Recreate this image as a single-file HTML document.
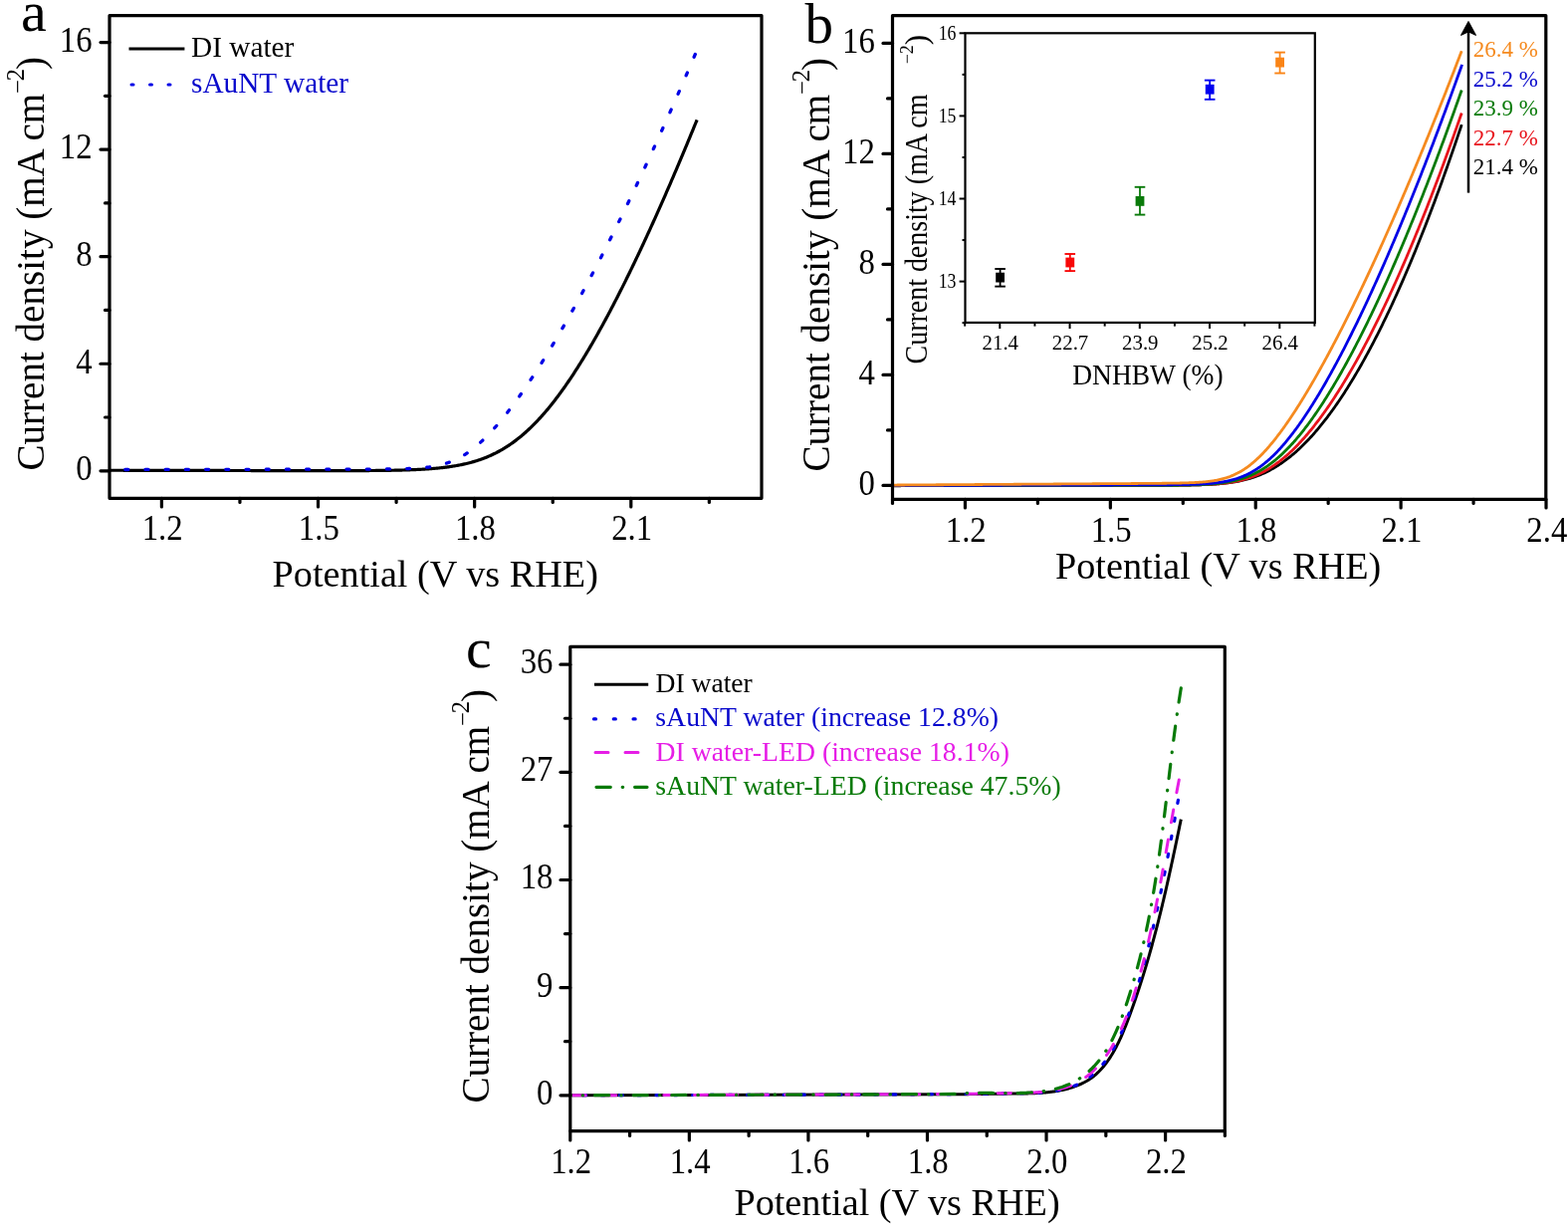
<!DOCTYPE html>
<html><head><meta charset="utf-8"><title>Figure</title>
<style>
html,body{margin:0;padding:0;background:#fff;}
svg{display:block;}
text{font-family:'Liberation Serif','Times New Roman',serif;}
</style></head>
<body>
<svg width="1575" height="1237" viewBox="0 0 1575 1237">
<rect width="1575" height="1237" fill="#fff"/>
<path d="M110.5,472.25 L111.5,472.25 L112.5,472.25 L113.5,472.25 L114.5,472.26 L115.5,472.26 L116.5,472.26 L117.5,472.26 L118.5,472.26 L119.5,472.27 L120.5,472.27 L121.5,472.27 L122.5,472.27 L123.5,472.27 L124.5,472.28 L125.5,472.28 L126.5,472.28 L127.5,472.28 L128.5,472.28 L129.5,472.29 L130.5,472.29 L131.5,472.29 L132.5,472.29 L133.5,472.29 L134.5,472.3 L135.5,472.3 L136.5,472.3 L137.5,472.3 L138.5,472.3 L139.5,472.31 L140.5,472.31 L141.5,472.31 L142.5,472.31 L143.5,472.31 L144.5,472.32 L145.5,472.32 L146.5,472.32 L147.5,472.32 L148.5,472.32 L149.5,472.33 L150.5,472.33 L151.5,472.33 L152.5,472.33 L153.5,472.33 L154.5,472.34 L155.5,472.34 L156.5,472.34 L157.5,472.34 L158.5,472.34 L159.5,472.35 L160.5,472.35 L161.5,472.35 L162.5,472.35 L163.5,472.35 L164.5,472.35 L165.5,472.36 L166.5,472.36 L167.5,472.36 L168.5,472.36 L169.5,472.36 L170.5,472.37 L171.5,472.37 L172.5,472.37 L173.5,472.37 L174.5,472.37 L175.5,472.38 L176.5,472.38 L177.5,472.38 L178.5,472.38 L179.5,472.38 L180.5,472.39 L181.5,472.39 L182.5,472.39 L183.5,472.39 L184.5,472.39 L185.5,472.4 L186.5,472.4 L187.5,472.4 L188.5,472.4 L189.5,472.4 L190.5,472.41 L191.5,472.41 L192.5,472.41 L193.5,472.41 L194.5,472.41 L195.5,472.42 L196.5,472.42 L197.5,472.42 L198.5,472.42 L199.5,472.42 L200.5,472.43 L201.5,472.43 L202.5,472.43 L203.5,472.43 L204.5,472.43 L205.5,472.44 L206.5,472.44 L207.5,472.44 L208.5,472.44 L209.5,472.44 L210.5,472.45 L211.5,472.45 L212.5,472.45 L213.5,472.45 L214.5,472.45 L215.5,472.45 L216.5,472.46 L217.5,472.46 L218.5,472.46 L219.5,472.46 L220.5,472.46 L221.5,472.47 L222.5,472.47 L223.5,472.47 L224.5,472.47 L225.5,472.47 L226.5,472.48 L227.5,472.48 L228.5,472.48 L229.5,472.48 L230.5,472.48 L231.5,472.49 L232.5,472.49 L233.5,472.49 L234.5,472.49 L235.5,472.49 L236.5,472.5 L237.5,472.5 L238.5,472.5 L239.5,472.5 L240.5,472.5 L241.5,472.5 L242.5,472.51 L243.5,472.51 L244.5,472.51 L245.5,472.51 L246.5,472.51 L247.5,472.52 L248.5,472.52 L249.5,472.52 L250.5,472.52 L251.5,472.52 L252.5,472.53 L253.5,472.53 L254.5,472.53 L255.5,472.53 L256.5,472.53 L257.5,472.53 L258.5,472.54 L259.5,472.54 L260.5,472.54 L261.5,472.54 L262.5,472.54 L263.5,472.55 L264.5,472.55 L265.5,472.55 L266.5,472.55 L267.5,472.55 L268.5,472.55 L269.5,472.56 L270.5,472.56 L271.5,472.56 L272.5,472.56 L273.5,472.56 L274.5,472.57 L275.5,472.57 L276.5,472.57 L277.5,472.57 L278.5,472.57 L279.5,472.57 L280.5,472.58 L281.5,472.58 L282.5,472.58 L283.5,472.58 L284.5,472.58 L285.5,472.58 L286.5,472.59 L287.5,472.59 L288.5,472.59 L289.5,472.59 L290.5,472.59 L291.5,472.59 L292.5,472.59 L293.5,472.6 L294.5,472.6 L295.5,472.6 L296.5,472.6 L297.5,472.6 L298.5,472.6 L299.5,472.6 L300.5,472.61 L301.5,472.61 L302.5,472.61 L303.5,472.61 L304.5,472.61 L305.5,472.61 L306.5,472.61 L307.5,472.61 L308.5,472.62 L309.5,472.62 L310.5,472.62 L311.5,472.62 L312.5,472.62 L313.5,472.62 L314.5,472.62 L315.5,472.62 L316.5,472.62 L317.5,472.62 L318.5,472.63 L319.5,472.63 L320.5,472.63 L321.5,472.63 L322.5,472.63 L323.5,472.63 L324.5,472.63 L325.5,472.63 L326.5,472.63 L327.5,472.63 L328.5,472.63 L329.5,472.63 L330.5,472.63 L331.5,472.63 L332.5,472.63 L333.5,472.63 L334.5,472.63 L335.5,472.63 L336.5,472.63 L337.5,472.63 L338.5,472.63 L339.5,472.63 L340.5,472.63 L341.5,472.63 L342.5,472.62 L343.5,472.62 L344.5,472.62 L345.5,472.62 L346.5,472.62 L347.5,472.62 L348.5,472.62 L349.5,472.61 L350.5,472.61 L351.5,472.61 L352.5,472.61 L353.5,472.6 L354.5,472.6 L355.5,472.6 L356.5,472.6 L357.5,472.59 L358.5,472.59 L359.5,472.59 L360.5,472.58 L361.5,472.58 L362.5,472.57 L363.5,472.57 L364.5,472.56 L365.5,472.56 L366.5,472.55 L367.5,472.55 L368.5,472.54 L369.5,472.54 L370.5,472.53 L371.5,472.52 L372.5,472.51 L373.5,472.51 L374.5,472.5 L375.5,472.49 L376.5,472.48 L377.5,472.47 L378.5,472.46 L379.5,472.45 L380.5,472.44 L381.5,472.43 L382.5,472.42 L383.5,472.41 L384.5,472.4 L385.5,472.39 L386.5,472.37 L387.5,472.36 L388.5,472.34 L389.5,472.33 L390.5,472.31 L391.5,472.3 L392.5,472.28 L393.5,472.26 L394.5,472.24 L395.5,472.23 L396.5,472.21 L397.5,472.19 L398.5,472.16 L399.5,472.14 L400.5,472.12 L401.5,472.09 L402.5,472.07 L403.5,472.04 L404.5,472.02 L405.5,471.99 L406.5,471.96 L407.5,471.93 L408.5,471.9 L409.5,471.86 L410.5,471.83 L411.5,471.79 L412.5,471.76 L413.5,471.72 L414.5,471.68 L415.5,471.64 L416.5,471.6 L417.5,471.55 L418.5,471.51 L419.5,471.46 L420.5,471.41 L421.5,471.36 L422.5,471.31 L423.5,471.25 L424.5,471.2 L425.5,471.14 L426.5,471.08 L427.5,471.02 L428.5,470.95 L429.5,470.88 L430.5,470.81 L431.5,470.74 L432.5,470.67 L433.5,470.59 L434.5,470.51 L435.5,470.43 L436.5,470.34 L437.5,470.25 L438.5,470.16 L439.5,470.07 L440.5,469.97 L441.5,469.87 L442.5,469.76 L443.5,469.65 L444.5,469.54 L445.5,469.43 L446.5,469.31 L447.5,469.18 L448.5,469.06 L449.5,468.92 L450.5,468.79 L451.5,468.65 L452.5,468.5 L453.5,468.35 L454.5,468.2 L455.5,468.04 L456.5,467.88 L457.5,467.71 L458.5,467.53 L459.5,467.35 L460.5,467.17 L461.5,466.98 L462.5,466.78 L463.5,466.58 L464.5,466.37 L465.5,466.15 L466.5,465.93 L467.5,465.71 L468.5,465.47 L469.5,465.23 L470.5,464.98 L471.5,464.73 L472.5,464.46 L473.5,464.19 L474.5,463.91 L475.5,463.63 L476.5,463.34 L477.5,463.03 L478.5,462.72 L479.5,462.41 L480.5,462.08 L481.5,461.74 L482.5,461.4 L483.5,461.05 L484.5,460.68 L485.5,460.31 L486.5,459.93 L487.5,459.54 L488.5,459.14 L489.5,458.73 L490.5,458.31 L491.5,457.88 L492.5,457.44 L493.5,456.98 L494.5,456.52 L495.5,456.05 L496.5,455.56 L497.5,455.07 L498.5,454.56 L499.5,454.04 L500.5,453.51 L501.5,452.97 L502.5,452.42 L503.5,451.85 L504.5,451.28 L505.5,450.69 L506.5,450.08 L507.5,449.47 L508.5,448.84 L509.5,448.21 L510.5,447.55 L511.5,446.89 L512.5,446.21 L513.5,445.52 L514.5,444.82 L515.5,444.1 L516.5,443.37 L517.5,442.63 L518.5,441.87 L519.5,441.1 L520.5,440.32 L521.5,439.52 L522.5,438.71 L523.5,437.89 L524.5,437.05 L525.5,436.2 L526.5,435.33 L527.5,434.45 L528.5,433.56 L529.5,432.65 L530.5,431.73 L531.5,430.79 L532.5,429.85 L533.5,428.88 L534.5,427.91 L535.5,426.92 L536.5,425.91 L537.5,424.89 L538.5,423.86 L539.5,422.82 L540.5,421.76 L541.5,420.68 L542.5,419.59 L543.5,418.49 L544.5,417.38 L545.5,416.25 L546.5,415.11 L547.5,413.95 L548.5,412.78 L549.5,411.6 L550.5,410.4 L551.5,409.19 L552.5,407.97 L553.5,406.73 L554.5,405.48 L555.5,404.22 L556.5,402.94 L557.5,401.65 L558.5,400.35 L559.5,399.03 L560.5,397.7 L561.5,396.36 L562.5,395.01 L563.5,393.64 L564.5,392.26 L565.5,390.87 L566.5,389.47 L567.5,388.05 L568.5,386.62 L569.5,385.18 L570.5,383.73 L571.5,382.26 L572.5,380.78 L573.5,379.3 L574.5,377.8 L575.5,376.28 L576.5,374.76 L577.5,373.22 L578.5,371.68 L579.5,370.12 L580.5,368.55 L581.5,366.97 L582.5,365.38 L583.5,363.77 L584.5,362.16 L585.5,360.54 L586.5,358.9 L587.5,357.25 L588.5,355.6 L589.5,353.93 L590.5,352.25 L591.5,350.57 L592.5,348.87 L593.5,347.16 L594.5,345.44 L595.5,343.71 L596.5,341.98 L597.5,340.23 L598.5,338.47 L599.5,336.7 L600.5,334.93 L601.5,333.14 L602.5,331.34 L603.5,329.54 L604.5,327.73 L605.5,325.9 L606.5,324.07 L607.5,322.23 L608.5,320.38 L609.5,318.52 L610.5,316.65 L611.5,314.77 L612.5,312.89 L613.5,310.99 L614.5,309.09 L615.5,307.18 L616.5,305.26 L617.5,303.33 L618.5,301.39 L619.5,299.45 L620.5,297.5 L621.5,295.54 L622.5,293.57 L623.5,291.59 L624.5,289.6 L625.5,287.61 L626.5,285.61 L627.5,283.6 L628.5,281.59 L629.5,279.57 L630.5,277.53 L631.5,275.5 L632.5,273.45 L633.5,271.4 L634.5,269.34 L635.5,267.27 L636.5,265.19 L637.5,263.11 L638.5,261.02 L639.5,258.93 L640.5,256.82 L641.5,254.71 L642.5,252.6 L643.5,250.47 L644.5,248.34 L645.5,246.2 L646.5,244.06 L647.5,241.91 L648.5,239.75 L649.5,237.59 L650.5,235.42 L651.5,233.24 L652.5,231.06 L653.5,228.87 L654.5,226.67 L655.5,224.47 L656.5,222.26 L657.5,220.04 L658.5,217.82 L659.5,215.59 L660.5,213.36 L661.5,211.12 L662.5,208.87 L663.5,206.62 L664.5,204.36 L665.5,202.1 L666.5,199.83 L667.5,197.55 L668.5,195.27 L669.5,192.98 L670.5,190.69 L671.5,188.39 L672.5,186.08 L673.5,183.77 L674.5,181.46 L675.5,179.13 L676.5,176.81 L677.5,174.47 L678.5,172.13 L679.5,169.79 L680.5,167.44 L681.5,165.09 L682.5,162.72 L683.5,160.36 L684.5,157.99 L685.5,155.61 L686.5,153.23 L687.5,150.84 L688.5,148.45 L689.5,146.05 L690.5,143.64 L691.5,141.24 L692.5,138.82 L693.5,136.4 L694.5,133.98 L695.5,131.55 L696.5,129.12 L697.5,126.68 L698.5,124.23 L699.5,121.78 L700.1,120.31" fill="none" stroke="#000" stroke-width="3.2" stroke-linecap="butt" stroke-linejoin="round" />
<path d="M698.3,54.51 L697.5,56.38 L696.5,58.72 L695.5,61.06 L694.5,63.39 L693.5,65.72 L692.5,68.05 L691.5,70.37 L690.5,72.69 L689.5,75 L688.5,77.31 L687.5,79.62 L686.5,81.92 L685.5,84.22 L684.5,86.52 L683.5,88.81 L682.5,91.1 L681.5,93.38 L680.5,95.66 L679.5,97.94 L678.5,100.21 L677.5,102.48 L676.5,104.74 L675.5,107 L674.5,109.26 L673.5,111.51 L672.5,113.76 L671.5,116.01 L670.5,118.25 L669.5,120.48 L668.5,122.72 L667.5,124.95 L666.5,127.17 L665.5,129.39 L664.5,131.61 L663.5,133.82 L662.5,136.03 L661.5,138.23 L660.5,140.44 L659.5,142.63 L658.5,144.82 L657.5,147.01 L656.5,149.2 L655.5,151.38 L654.5,153.55 L653.5,155.72 L652.5,157.89 L651.5,160.05 L650.5,162.21 L649.5,164.37 L648.5,166.52 L647.5,168.66 L646.5,170.81 L645.5,172.94 L644.5,175.08 L643.5,177.21 L642.5,179.33 L641.5,181.45 L640.5,183.57 L639.5,185.68 L638.5,187.79 L637.5,189.89 L636.5,191.99 L635.5,194.08 L634.5,196.17 L633.5,198.26 L632.5,200.34 L631.5,202.42 L630.5,204.49 L629.5,206.55 L628.5,208.62 L627.5,210.68 L626.5,212.73 L625.5,214.78 L624.5,216.82 L623.5,218.86 L622.5,220.9 L621.5,222.93 L620.5,224.96 L619.5,226.98 L618.5,228.99 L617.5,231.01 L616.5,233.01 L615.5,235.02 L614.5,237.01 L613.5,239.01 L612.5,240.99 L611.5,242.98 L610.5,244.96 L609.5,246.93 L608.5,248.9 L607.5,250.86 L606.5,252.82 L605.5,254.78 L604.5,256.72 L603.5,258.67 L602.5,260.61 L601.5,262.54 L600.5,264.47 L599.5,266.39 L598.5,268.31 L597.5,270.23 L596.5,272.14 L595.5,274.04 L594.5,275.94 L593.5,277.83 L592.5,279.72 L591.5,281.6 L590.5,283.48 L589.5,285.35 L588.5,287.22 L587.5,289.08 L586.5,290.93 L585.5,292.78 L584.5,294.63 L583.5,296.47 L582.5,298.3 L581.5,300.13 L580.5,301.95 L579.5,303.77 L578.5,305.58 L577.5,307.39 L576.5,309.19 L575.5,310.99 L574.5,312.77 L573.5,314.56 L572.5,316.33 L571.5,318.11 L570.5,319.87 L569.5,321.63 L568.5,323.39 L567.5,325.13 L566.5,326.87 L565.5,328.61 L564.5,330.34 L563.5,332.06 L562.5,333.78 L561.5,335.49 L560.5,337.2 L559.5,338.89 L558.5,340.59 L557.5,342.27 L556.5,343.95 L555.5,345.62 L554.5,347.29 L553.5,348.95 L552.5,350.6 L551.5,352.25 L550.5,353.89 L549.5,355.52 L548.5,357.15 L547.5,358.76 L546.5,360.38 L545.5,361.98 L544.5,363.58 L543.5,365.17 L542.5,366.75 L541.5,368.33 L540.5,369.89 L539.5,371.45 L538.5,373.01 L537.5,374.55 L536.5,376.09 L535.5,377.62 L534.5,379.14 L533.5,380.66 L532.5,382.16 L531.5,383.66 L530.5,385.15 L529.5,386.63 L528.5,388.1 L527.5,389.57 L526.5,391.02 L525.5,392.47 L524.5,393.91 L523.5,395.33 L522.5,396.75 L521.5,398.17 L520.5,399.57 L519.5,400.96 L518.5,402.34 L517.5,403.71 L516.5,405.07 L515.5,406.43 L514.5,407.77 L513.5,409.1 L512.5,410.42 L511.5,411.73 L510.5,413.03 L509.5,414.32 L508.5,415.6 L507.5,416.87 L506.5,418.12 L505.5,419.37 L504.5,420.6 L503.5,421.82 L502.5,423.02 L501.5,424.22 L500.5,425.4 L499.5,426.57 L498.5,427.73 L497.5,428.87 L496.5,430 L495.5,431.12 L494.5,432.22 L493.5,433.31 L492.5,434.38 L491.5,435.44 L490.5,436.49 L489.5,437.52 L488.5,438.53 L487.5,439.53 L486.5,440.52 L485.5,441.49 L484.5,442.44 L483.5,443.37 L482.5,444.29 L481.5,445.2 L480.5,446.08 L479.5,446.95 L478.5,447.81 L477.5,448.64 L476.5,449.46 L475.5,450.26 L474.5,451.04 L473.5,451.8 L472.5,452.55 L471.5,453.28 L470.5,453.99 L469.5,454.68 L468.5,455.36 L467.5,456.01 L466.5,456.65 L465.5,457.27 L464.5,457.87 L463.5,458.45 L462.5,459.02 L461.5,459.57 L460.5,460.09 L459.5,460.61 L458.5,461.1 L457.5,461.58 L456.5,462.04 L455.5,462.48 L454.5,462.91 L453.5,463.32 L452.5,463.71 L451.5,464.09 L450.5,464.45 L449.5,464.8 L448.5,465.13 L447.5,465.45 L446.5,465.75 L445.5,466.04 L444.5,466.32 L443.5,466.58 L442.5,466.83 L441.5,467.07 L440.5,467.3 L439.5,467.52 L438.5,467.72 L437.5,467.92 L436.5,468.1 L435.5,468.28 L434.5,468.44 L433.5,468.6 L432.5,468.75 L431.5,468.89 L430.5,469.02 L429.5,469.14 L428.5,469.26 L427.5,469.37 L426.5,469.47 L425.5,469.57 L424.5,469.67 L423.5,469.75 L422.5,469.83 L421.5,469.91 L420.5,469.98 L419.5,470.05 L418.5,470.12 L417.5,470.17 L416.5,470.23 L415.5,470.28 L414.5,470.33 L413.5,470.38 L412.5,470.42 L411.5,470.46 L410.5,470.5 L409.5,470.54 L408.5,470.57 L407.5,470.6 L406.5,470.63 L405.5,470.66 L404.5,470.69 L403.5,470.71 L402.5,470.73 L401.5,470.75 L400.5,470.77 L399.5,470.79 L398.5,470.81 L397.5,470.83 L396.5,470.84 L395.5,470.86 L394.5,470.87 L393.5,470.88 L392.5,470.89 L391.5,470.91 L390.5,470.92 L389.5,470.93 L388.5,470.94 L387.5,470.95 L386.5,470.95 L385.5,470.96 L384.5,470.97 L383.5,470.98 L382.5,470.98 L381.5,470.99 L380.5,471 L379.5,471 L378.5,471.01 L377.5,471.01 L376.5,471.02 L375.5,471.02 L374.5,471.03 L373.5,471.03 L372.5,471.04 L371.5,471.04 L370.5,471.04 L369.5,471.05 L368.5,471.05 L367.5,471.05 L366.5,471.06 L365.5,471.06 L364.5,471.06 L363.5,471.07 L362.5,471.07 L361.5,471.07 L360.5,471.08 L359.5,471.08 L358.5,471.08 L357.5,471.08 L356.5,471.09 L355.5,471.09 L354.5,471.09 L353.5,471.09 L352.5,471.1 L351.5,471.1 L350.5,471.1 L349.5,471.1 L348.5,471.1 L347.5,471.11 L346.5,471.11 L345.5,471.11 L344.5,471.11 L343.5,471.11 L342.5,471.12 L341.5,471.12 L340.5,471.12 L339.5,471.12 L338.5,471.12 L337.5,471.13 L336.5,471.13 L335.5,471.13 L334.5,471.13 L333.5,471.13 L332.5,471.14 L331.5,471.14 L330.5,471.14 L329.5,471.14 L328.5,471.14 L327.5,471.15 L326.5,471.15 L325.5,471.15 L324.5,471.15 L323.5,471.15 L322.5,471.15 L321.5,471.16 L320.5,471.16 L319.5,471.16 L318.5,471.16 L317.5,471.16 L316.5,471.17 L315.5,471.17 L314.5,471.17 L313.5,471.17 L312.5,471.17 L311.5,471.17 L310.5,471.18 L309.5,471.18 L308.5,471.18 L307.5,471.18 L306.5,471.18 L305.5,471.19 L304.5,471.19 L303.5,471.19 L302.5,471.19 L301.5,471.19 L300.5,471.19 L299.5,471.2 L298.5,471.2 L297.5,471.2 L296.5,471.2 L295.5,471.2 L294.5,471.21 L293.5,471.21 L292.5,471.21 L291.5,471.21 L290.5,471.21 L289.5,471.21 L288.5,471.22 L287.5,471.22 L286.5,471.22 L285.5,471.22 L284.5,471.22 L283.5,471.23 L282.5,471.23 L281.5,471.23 L280.5,471.23 L279.5,471.23 L278.5,471.23 L277.5,471.24 L276.5,471.24 L275.5,471.24 L274.5,471.24 L273.5,471.24 L272.5,471.24 L271.5,471.25 L270.5,471.25 L269.5,471.25 L268.5,471.25 L267.5,471.25 L266.5,471.26 L265.5,471.26 L264.5,471.26 L263.5,471.26 L262.5,471.26 L261.5,471.26 L260.5,471.27 L259.5,471.27 L258.5,471.27 L257.5,471.27 L256.5,471.27 L255.5,471.28 L254.5,471.28 L253.5,471.28 L252.5,471.28 L251.5,471.28 L250.5,471.28 L249.5,471.29 L248.5,471.29 L247.5,471.29 L246.5,471.29 L245.5,471.29 L244.5,471.29 L243.5,471.3 L242.5,471.3 L241.5,471.3 L240.5,471.3 L239.5,471.3 L238.5,471.31 L237.5,471.31 L236.5,471.31 L235.5,471.31 L234.5,471.31 L233.5,471.31 L232.5,471.32 L231.5,471.32 L230.5,471.32 L229.5,471.32 L228.5,471.32 L227.5,471.33 L226.5,471.33 L225.5,471.33 L224.5,471.33 L223.5,471.33 L222.5,471.33 L221.5,471.34 L220.5,471.34 L219.5,471.34 L218.5,471.34 L217.5,471.34 L216.5,471.34 L215.5,471.35 L214.5,471.35 L213.5,471.35 L212.5,471.35 L211.5,471.35 L210.5,471.36 L209.5,471.36 L208.5,471.36 L207.5,471.36 L206.5,471.36 L205.5,471.36 L204.5,471.37 L203.5,471.37 L202.5,471.37 L201.5,471.37 L200.5,471.37 L199.5,471.38 L198.5,471.38 L197.5,471.38 L196.5,471.38 L195.5,471.38 L194.5,471.38 L193.5,471.39 L192.5,471.39 L191.5,471.39 L190.5,471.39 L189.5,471.39 L188.5,471.39 L187.5,471.4 L186.5,471.4 L185.5,471.4 L184.5,471.4 L183.5,471.4 L182.5,471.41 L181.5,471.41 L180.5,471.41 L179.5,471.41 L178.5,471.41 L177.5,471.41 L176.5,471.42 L175.5,471.42 L174.5,471.42 L173.5,471.42 L172.5,471.42 L171.5,471.43 L170.5,471.43 L169.5,471.43 L168.5,471.43 L167.5,471.43 L166.5,471.43 L165.5,471.44 L164.5,471.44 L163.5,471.44 L162.5,471.44 L161.5,471.44 L160.5,471.44 L159.5,471.45 L158.5,471.45 L157.5,471.45 L156.5,471.45 L155.5,471.45 L154.5,471.46 L153.5,471.46 L152.5,471.46 L151.5,471.46 L150.5,471.46 L149.5,471.46 L148.5,471.47 L147.5,471.47 L146.5,471.47 L145.5,471.47 L144.5,471.47 L143.5,471.48 L142.5,471.48 L141.5,471.48 L140.5,471.48 L139.5,471.48 L138.5,471.48 L137.5,471.49 L136.5,471.49 L135.5,471.49 L134.5,471.49 L133.5,471.49 L132.5,471.49 L131.5,471.5 L130.5,471.5 L129.5,471.5 L128.5,471.5 L127.5,471.5 L126.5,471.51 L125.5,471.51 L124.5,471.51 L123.5,471.51 L122.5,471.51 L121.5,471.51 L120.5,471.52 L119.5,471.52 L118.5,471.52 L117.5,471.52 L116.5,471.52 L115.5,471.53 L114.5,471.53 L113.5,471.53 L112.5,471.53 L111.5,471.53 L110.5,471.53" fill="none" stroke="#0000E6" stroke-width="3.3" stroke-linecap="round" stroke-linejoin="round" stroke-dasharray="3 17.2" />
<rect x="110" y="15.6" width="655" height="484.7" fill="none" stroke="#000" stroke-width="3.2" stroke-linejoin="round"/>
<line x1="101" y1="472.8" x2="110" y2="472.8" stroke="#000" stroke-width="3.2" stroke-linecap="round" />
<text x="92.6" y="482.1" font-size="36" text-anchor="end" fill="#000" textLength="16.38" lengthAdjust="spacingAndGlyphs" >0</text>
<line x1="101" y1="365.24" x2="110" y2="365.24" stroke="#000" stroke-width="3.2" stroke-linecap="round" />
<text x="92.6" y="374.54" font-size="36" text-anchor="end" fill="#000" textLength="16.38" lengthAdjust="spacingAndGlyphs" >4</text>
<line x1="101" y1="257.68" x2="110" y2="257.68" stroke="#000" stroke-width="3.2" stroke-linecap="round" />
<text x="92.6" y="266.98" font-size="36" text-anchor="end" fill="#000" textLength="16.38" lengthAdjust="spacingAndGlyphs" >8</text>
<line x1="101" y1="150.12" x2="110" y2="150.12" stroke="#000" stroke-width="3.2" stroke-linecap="round" />
<text x="92.6" y="159.42" font-size="36" text-anchor="end" fill="#000" textLength="32.76" lengthAdjust="spacingAndGlyphs" >12</text>
<line x1="101" y1="42.56" x2="110" y2="42.56" stroke="#000" stroke-width="3.2" stroke-linecap="round" />
<text x="92.6" y="51.86" font-size="36" text-anchor="end" fill="#000" textLength="32.76" lengthAdjust="spacingAndGlyphs" >16</text>
<line x1="105.5" y1="419.02" x2="110" y2="419.02" stroke="#000" stroke-width="3.2" stroke-linecap="round" />
<line x1="105.5" y1="311.46" x2="110" y2="311.46" stroke="#000" stroke-width="3.2" stroke-linecap="round" />
<line x1="105.5" y1="203.9" x2="110" y2="203.9" stroke="#000" stroke-width="3.2" stroke-linecap="round" />
<line x1="105.5" y1="96.34" x2="110" y2="96.34" stroke="#000" stroke-width="3.2" stroke-linecap="round" />
<line x1="162.38" y1="500.3" x2="162.38" y2="509" stroke="#000" stroke-width="3.2" stroke-linecap="round" />
<text x="163.18" y="542.2" font-size="36" text-anchor="middle" fill="#000" textLength="40.95" lengthAdjust="spacingAndGlyphs" >1.2</text>
<line x1="319.52" y1="500.3" x2="319.52" y2="509" stroke="#000" stroke-width="3.2" stroke-linecap="round" />
<text x="320.32" y="542.2" font-size="36" text-anchor="middle" fill="#000" textLength="40.95" lengthAdjust="spacingAndGlyphs" >1.5</text>
<line x1="476.66" y1="500.3" x2="476.66" y2="509" stroke="#000" stroke-width="3.2" stroke-linecap="round" />
<text x="477.46" y="542.2" font-size="36" text-anchor="middle" fill="#000" textLength="40.95" lengthAdjust="spacingAndGlyphs" >1.8</text>
<line x1="633.8" y1="500.3" x2="633.8" y2="509" stroke="#000" stroke-width="3.2" stroke-linecap="round" />
<text x="634.6" y="542.2" font-size="36" text-anchor="middle" fill="#000" textLength="40.95" lengthAdjust="spacingAndGlyphs" >2.1</text>
<line x1="240.95" y1="500.3" x2="240.95" y2="504.5" stroke="#000" stroke-width="3.2" stroke-linecap="round" />
<line x1="398.09" y1="500.3" x2="398.09" y2="504.5" stroke="#000" stroke-width="3.2" stroke-linecap="round" />
<line x1="555.23" y1="500.3" x2="555.23" y2="504.5" stroke="#000" stroke-width="3.2" stroke-linecap="round" />
<line x1="712.37" y1="500.3" x2="712.37" y2="504.5" stroke="#000" stroke-width="3.2" stroke-linecap="round" />
<text x="273.6" y="588.6" font-size="38.2" text-anchor="start" fill="#000" textLength="327.3" lengthAdjust="spacingAndGlyphs" >Potential (V vs RHE)</text>
<text x="21" y="31.2" font-size="58" text-anchor="start" fill="#000" >a</text>
<text transform="translate(44.4,472.6) rotate(-90)" font-size="39.1">Current density (mA cm<tspan font-size="24.5" dy="-18.5">−</tspan><tspan font-size="24.5" dx="-1.3" dy="-1.7">2</tspan><tspan dx="-1" dy="20.2">)</tspan></text>
<line x1="129.5" y1="48.9" x2="185.4" y2="48.9" stroke="#000" stroke-width="3" stroke-linecap="butt" />
<text x="192" y="56.8" font-size="29.3" text-anchor="start" fill="#000" >DI water</text>
<line x1="132" y1="85" x2="172" y2="85" stroke="#0000E6" stroke-width="3" stroke-linecap="round" stroke-dasharray="2 16.5"/>
<text x="192" y="93.3" font-size="29.3" text-anchor="start" fill="#0808CC" >sAuNT water</text>
<path d="M896.5,487.74 L897.5,487.74 L898.5,487.74 L899.5,487.73 L900.5,487.73 L901.5,487.73 L902.5,487.73 L903.5,487.73 L904.5,487.73 L905.5,487.72 L906.5,487.72 L907.5,487.72 L908.5,487.72 L909.5,487.72 L910.5,487.72 L911.5,487.71 L912.5,487.71 L913.5,487.71 L914.5,487.71 L915.5,487.71 L916.5,487.71 L917.5,487.7 L918.5,487.7 L919.5,487.7 L920.5,487.7 L921.5,487.7 L922.5,487.69 L923.5,487.69 L924.5,487.69 L925.5,487.69 L926.5,487.69 L927.5,487.69 L928.5,487.68 L929.5,487.68 L930.5,487.68 L931.5,487.68 L932.5,487.68 L933.5,487.68 L934.5,487.67 L935.5,487.67 L936.5,487.67 L937.5,487.67 L938.5,487.67 L939.5,487.67 L940.5,487.66 L941.5,487.66 L942.5,487.66 L943.5,487.66 L944.5,487.66 L945.5,487.65 L946.5,487.65 L947.5,487.65 L948.5,487.65 L949.5,487.65 L950.5,487.65 L951.5,487.64 L952.5,487.64 L953.5,487.64 L954.5,487.64 L955.5,487.64 L956.5,487.64 L957.5,487.63 L958.5,487.63 L959.5,487.63 L960.5,487.63 L961.5,487.63 L962.5,487.63 L963.5,487.62 L964.5,487.62 L965.5,487.62 L966.5,487.62 L967.5,487.62 L968.5,487.62 L969.5,487.61 L970.5,487.61 L971.5,487.61 L972.5,487.61 L973.5,487.61 L974.5,487.6 L975.5,487.6 L976.5,487.6 L977.5,487.6 L978.5,487.6 L979.5,487.6 L980.5,487.59 L981.5,487.59 L982.5,487.59 L983.5,487.59 L984.5,487.59 L985.5,487.59 L986.5,487.58 L987.5,487.58 L988.5,487.58 L989.5,487.58 L990.5,487.58 L991.5,487.58 L992.5,487.57 L993.5,487.57 L994.5,487.57 L995.5,487.57 L996.5,487.57 L997.5,487.57 L998.5,487.56 L999.5,487.56 L1000.5,487.56 L1001.5,487.56 L1002.5,487.56 L1003.5,487.55 L1004.5,487.55 L1005.5,487.55 L1006.5,487.55 L1007.5,487.55 L1008.5,487.55 L1009.5,487.54 L1010.5,487.54 L1011.5,487.54 L1012.5,487.54 L1013.5,487.54 L1014.5,487.54 L1015.5,487.53 L1016.5,487.53 L1017.5,487.53 L1018.5,487.53 L1019.5,487.53 L1020.5,487.53 L1021.5,487.52 L1022.5,487.52 L1023.5,487.52 L1024.5,487.52 L1025.5,487.52 L1026.5,487.52 L1027.5,487.51 L1028.5,487.51 L1029.5,487.51 L1030.5,487.51 L1031.5,487.51 L1032.5,487.5 L1033.5,487.5 L1034.5,487.5 L1035.5,487.5 L1036.5,487.5 L1037.5,487.5 L1038.5,487.49 L1039.5,487.49 L1040.5,487.49 L1041.5,487.49 L1042.5,487.49 L1043.5,487.49 L1044.5,487.48 L1045.5,487.48 L1046.5,487.48 L1047.5,487.48 L1048.5,487.48 L1049.5,487.48 L1050.5,487.47 L1051.5,487.47 L1052.5,487.47 L1053.5,487.47 L1054.5,487.47 L1055.5,487.47 L1056.5,487.46 L1057.5,487.46 L1058.5,487.46 L1059.5,487.46 L1060.5,487.46 L1061.5,487.45 L1062.5,487.45 L1063.5,487.45 L1064.5,487.45 L1065.5,487.45 L1066.5,487.45 L1067.5,487.44 L1068.5,487.44 L1069.5,487.44 L1070.5,487.44 L1071.5,487.44 L1072.5,487.44 L1073.5,487.43 L1074.5,487.43 L1075.5,487.43 L1076.5,487.43 L1077.5,487.43 L1078.5,487.43 L1079.5,487.42 L1080.5,487.42 L1081.5,487.42 L1082.5,487.42 L1083.5,487.42 L1084.5,487.42 L1085.5,487.41 L1086.5,487.41 L1087.5,487.41 L1088.5,487.41 L1089.5,487.41 L1090.5,487.4 L1091.5,487.4 L1092.5,487.4 L1093.5,487.4 L1094.5,487.4 L1095.5,487.4 L1096.5,487.39 L1097.5,487.39 L1098.5,487.39 L1099.5,487.39 L1100.5,487.39 L1101.5,487.39 L1102.5,487.38 L1103.5,487.38 L1104.5,487.38 L1105.5,487.38 L1106.5,487.38 L1107.5,487.38 L1108.5,487.37 L1109.5,487.37 L1110.5,487.37 L1111.5,487.37 L1112.5,487.37 L1113.5,487.36 L1114.5,487.36 L1115.5,487.36 L1116.5,487.36 L1117.5,487.36 L1118.5,487.36 L1119.5,487.35 L1120.5,487.35 L1121.5,487.35 L1122.5,487.35 L1123.5,487.35 L1124.5,487.34 L1125.5,487.34 L1126.5,487.34 L1127.5,487.34 L1128.5,487.34 L1129.5,487.34 L1130.5,487.33 L1131.5,487.33 L1132.5,487.33 L1133.5,487.33 L1134.5,487.33 L1135.5,487.32 L1136.5,487.32 L1137.5,487.32 L1138.5,487.32 L1139.5,487.32 L1140.5,487.31 L1141.5,487.31 L1142.5,487.31 L1143.5,487.31 L1144.5,487.3 L1145.5,487.3 L1146.5,487.3 L1147.5,487.3 L1148.5,487.3 L1149.5,487.29 L1150.5,487.29 L1151.5,487.29 L1152.5,487.29 L1153.5,487.28 L1154.5,487.28 L1155.5,487.28 L1156.5,487.28 L1157.5,487.27 L1158.5,487.27 L1159.5,487.27 L1160.5,487.26 L1161.5,487.26 L1162.5,487.26 L1163.5,487.25 L1164.5,487.25 L1165.5,487.25 L1166.5,487.24 L1167.5,487.24 L1168.5,487.23 L1169.5,487.23 L1170.5,487.22 L1171.5,487.22 L1172.5,487.21 L1173.5,487.21 L1174.5,487.2 L1175.5,487.2 L1176.5,487.19 L1177.5,487.19 L1178.5,487.18 L1179.5,487.17 L1180.5,487.16 L1181.5,487.16 L1182.5,487.15 L1183.5,487.14 L1184.5,487.13 L1185.5,487.12 L1186.5,487.11 L1187.5,487.1 L1188.5,487.09 L1189.5,487.08 L1190.5,487.07 L1191.5,487.05 L1192.5,487.04 L1193.5,487.02 L1194.5,487.01 L1195.5,486.99 L1196.5,486.97 L1197.5,486.96 L1198.5,486.94 L1199.5,486.92 L1200.5,486.89 L1201.5,486.87 L1202.5,486.85 L1203.5,486.82 L1204.5,486.79 L1205.5,486.76 L1206.5,486.73 L1207.5,486.7 L1208.5,486.67 L1209.5,486.63 L1210.5,486.59 L1211.5,486.55 L1212.5,486.51 L1213.5,486.47 L1214.5,486.42 L1215.5,486.37 L1216.5,486.31 L1217.5,486.26 L1218.5,486.2 L1219.5,486.14 L1220.5,486.07 L1221.5,486 L1222.5,485.93 L1223.5,485.86 L1224.5,485.78 L1225.5,485.69 L1226.5,485.6 L1227.5,485.51 L1228.5,485.42 L1229.5,485.31 L1230.5,485.21 L1231.5,485.09 L1232.5,484.98 L1233.5,484.85 L1234.5,484.73 L1235.5,484.59 L1236.5,484.45 L1237.5,484.3 L1238.5,484.15 L1239.5,483.99 L1240.5,483.82 L1241.5,483.65 L1242.5,483.47 L1243.5,483.28 L1244.5,483.08 L1245.5,482.88 L1246.5,482.67 L1247.5,482.45 L1248.5,482.22 L1249.5,481.98 L1250.5,481.73 L1251.5,481.48 L1252.5,481.21 L1253.5,480.94 L1254.5,480.65 L1255.5,480.36 L1256.5,480.06 L1257.5,479.74 L1258.5,479.42 L1259.5,479.08 L1260.5,478.73 L1261.5,478.38 L1262.5,478.01 L1263.5,477.63 L1264.5,477.24 L1265.5,476.84 L1266.5,476.42 L1267.5,476 L1268.5,475.56 L1269.5,475.11 L1270.5,474.65 L1271.5,474.18 L1272.5,473.69 L1273.5,473.19 L1274.5,472.68 L1275.5,472.16 L1276.5,471.62 L1277.5,471.07 L1278.5,470.51 L1279.5,469.93 L1280.5,469.34 L1281.5,468.74 L1282.5,468.12 L1283.5,467.5 L1284.5,466.85 L1285.5,466.2 L1286.5,465.53 L1287.5,464.85 L1288.5,464.15 L1289.5,463.44 L1290.5,462.72 L1291.5,461.98 L1292.5,461.23 L1293.5,460.47 L1294.5,459.69 L1295.5,458.89 L1296.5,458.09 L1297.5,457.27 L1298.5,456.43 L1299.5,455.59 L1300.5,454.73 L1301.5,453.85 L1302.5,452.96 L1303.5,452.06 L1304.5,451.14 L1305.5,450.21 L1306.5,449.26 L1307.5,448.31 L1308.5,447.33 L1309.5,446.35 L1310.5,445.35 L1311.5,444.33 L1312.5,443.3 L1313.5,442.26 L1314.5,441.21 L1315.5,440.14 L1316.5,439.05 L1317.5,437.96 L1318.5,436.84 L1319.5,435.72 L1320.5,434.58 L1321.5,433.43 L1322.5,432.26 L1323.5,431.08 L1324.5,429.89 L1325.5,428.68 L1326.5,427.46 L1327.5,426.23 L1328.5,424.98 L1329.5,423.72 L1330.5,422.44 L1331.5,421.16 L1332.5,419.85 L1333.5,418.54 L1334.5,417.21 L1335.5,415.87 L1336.5,414.51 L1337.5,413.14 L1338.5,411.76 L1339.5,410.36 L1340.5,408.96 L1341.5,407.53 L1342.5,406.1 L1343.5,404.65 L1344.5,403.19 L1345.5,401.71 L1346.5,400.22 L1347.5,398.72 L1348.5,397.21 L1349.5,395.68 L1350.5,394.14 L1351.5,392.58 L1352.5,391.01 L1353.5,389.43 L1354.5,387.84 L1355.5,386.23 L1356.5,384.61 L1357.5,382.98 L1358.5,381.34 L1359.5,379.68 L1360.5,378.01 L1361.5,376.32 L1362.5,374.62 L1363.5,372.91 L1364.5,371.19 L1365.5,369.46 L1366.5,367.71 L1367.5,365.95 L1368.5,364.17 L1369.5,362.38 L1370.5,360.58 L1371.5,358.77 L1372.5,356.95 L1373.5,355.11 L1374.5,353.26 L1375.5,351.4 L1376.5,349.52 L1377.5,347.63 L1378.5,345.73 L1379.5,343.82 L1380.5,341.89 L1381.5,339.95 L1382.5,338 L1383.5,336.03 L1384.5,334.06 L1385.5,332.07 L1386.5,330.07 L1387.5,328.05 L1388.5,326.02 L1389.5,323.99 L1390.5,321.93 L1391.5,319.87 L1392.5,317.79 L1393.5,315.7 L1394.5,313.6 L1395.5,311.49 L1396.5,309.36 L1397.5,307.22 L1398.5,305.07 L1399.5,302.91 L1400.5,300.73 L1401.5,298.54 L1402.5,296.34 L1403.5,294.13 L1404.5,291.9 L1405.5,289.67 L1406.5,287.42 L1407.5,285.15 L1408.5,282.88 L1409.5,280.59 L1410.5,278.29 L1411.5,275.98 L1412.5,273.66 L1413.5,271.32 L1414.5,268.97 L1415.5,266.61 L1416.5,264.24 L1417.5,261.86 L1418.5,259.46 L1419.5,257.05 L1420.5,254.63 L1421.5,252.19 L1422.5,249.75 L1423.5,247.29 L1424.5,244.82 L1425.5,242.34 L1426.5,239.84 L1427.5,237.34 L1428.5,234.82 L1429.5,232.29 L1430.5,229.74 L1431.5,227.19 L1432.5,224.62 L1433.5,222.04 L1434.5,219.45 L1435.5,216.85 L1436.5,214.23 L1437.5,211.61 L1438.5,208.97 L1439.5,206.32 L1440.5,203.65 L1441.5,200.98 L1442.5,198.29 L1443.5,195.59 L1444.5,192.88 L1445.5,190.15 L1446.5,187.42 L1447.5,184.67 L1448.5,181.91 L1449.5,179.14 L1450.5,176.36 L1451.5,173.56 L1452.5,170.75 L1453.5,167.93 L1454.5,165.1 L1455.5,162.26 L1456.5,159.4 L1457.5,156.53 L1458.5,153.66 L1459.5,150.76 L1460.5,147.86 L1461.5,144.95 L1462.5,142.02 L1463.5,139.08 L1464.5,136.13 L1465.5,133.17 L1466.5,130.19 L1467.5,127.21 L1468.2,125.11" fill="none" stroke="#000" stroke-width="2.8" stroke-linecap="butt" stroke-linejoin="round" />
<path d="M896.5,487.61 L897.5,487.61 L898.5,487.61 L899.5,487.61 L900.5,487.61 L901.5,487.61 L902.5,487.61 L903.5,487.6 L904.5,487.6 L905.5,487.6 L906.5,487.6 L907.5,487.6 L908.5,487.6 L909.5,487.6 L910.5,487.59 L911.5,487.59 L912.5,487.59 L913.5,487.59 L914.5,487.59 L915.5,487.59 L916.5,487.59 L917.5,487.58 L918.5,487.58 L919.5,487.58 L920.5,487.58 L921.5,487.58 L922.5,487.58 L923.5,487.58 L924.5,487.58 L925.5,487.57 L926.5,487.57 L927.5,487.57 L928.5,487.57 L929.5,487.57 L930.5,487.57 L931.5,487.57 L932.5,487.56 L933.5,487.56 L934.5,487.56 L935.5,487.56 L936.5,487.56 L937.5,487.56 L938.5,487.56 L939.5,487.55 L940.5,487.55 L941.5,487.55 L942.5,487.55 L943.5,487.55 L944.5,487.55 L945.5,487.55 L946.5,487.54 L947.5,487.54 L948.5,487.54 L949.5,487.54 L950.5,487.54 L951.5,487.54 L952.5,487.54 L953.5,487.53 L954.5,487.53 L955.5,487.53 L956.5,487.53 L957.5,487.53 L958.5,487.53 L959.5,487.53 L960.5,487.52 L961.5,487.52 L962.5,487.52 L963.5,487.52 L964.5,487.52 L965.5,487.52 L966.5,487.52 L967.5,487.52 L968.5,487.51 L969.5,487.51 L970.5,487.51 L971.5,487.51 L972.5,487.51 L973.5,487.51 L974.5,487.51 L975.5,487.5 L976.5,487.5 L977.5,487.5 L978.5,487.5 L979.5,487.5 L980.5,487.5 L981.5,487.5 L982.5,487.49 L983.5,487.49 L984.5,487.49 L985.5,487.49 L986.5,487.49 L987.5,487.49 L988.5,487.49 L989.5,487.48 L990.5,487.48 L991.5,487.48 L992.5,487.48 L993.5,487.48 L994.5,487.48 L995.5,487.48 L996.5,487.47 L997.5,487.47 L998.5,487.47 L999.5,487.47 L1000.5,487.47 L1001.5,487.47 L1002.5,487.47 L1003.5,487.46 L1004.5,487.46 L1005.5,487.46 L1006.5,487.46 L1007.5,487.46 L1008.5,487.46 L1009.5,487.46 L1010.5,487.46 L1011.5,487.45 L1012.5,487.45 L1013.5,487.45 L1014.5,487.45 L1015.5,487.45 L1016.5,487.45 L1017.5,487.45 L1018.5,487.44 L1019.5,487.44 L1020.5,487.44 L1021.5,487.44 L1022.5,487.44 L1023.5,487.44 L1024.5,487.44 L1025.5,487.43 L1026.5,487.43 L1027.5,487.43 L1028.5,487.43 L1029.5,487.43 L1030.5,487.43 L1031.5,487.43 L1032.5,487.42 L1033.5,487.42 L1034.5,487.42 L1035.5,487.42 L1036.5,487.42 L1037.5,487.42 L1038.5,487.42 L1039.5,487.41 L1040.5,487.41 L1041.5,487.41 L1042.5,487.41 L1043.5,487.41 L1044.5,487.41 L1045.5,487.41 L1046.5,487.4 L1047.5,487.4 L1048.5,487.4 L1049.5,487.4 L1050.5,487.4 L1051.5,487.4 L1052.5,487.4 L1053.5,487.39 L1054.5,487.39 L1055.5,487.39 L1056.5,487.39 L1057.5,487.39 L1058.5,487.39 L1059.5,487.39 L1060.5,487.39 L1061.5,487.38 L1062.5,487.38 L1063.5,487.38 L1064.5,487.38 L1065.5,487.38 L1066.5,487.38 L1067.5,487.38 L1068.5,487.37 L1069.5,487.37 L1070.5,487.37 L1071.5,487.37 L1072.5,487.37 L1073.5,487.37 L1074.5,487.37 L1075.5,487.36 L1076.5,487.36 L1077.5,487.36 L1078.5,487.36 L1079.5,487.36 L1080.5,487.36 L1081.5,487.36 L1082.5,487.35 L1083.5,487.35 L1084.5,487.35 L1085.5,487.35 L1086.5,487.35 L1087.5,487.35 L1088.5,487.35 L1089.5,487.34 L1090.5,487.34 L1091.5,487.34 L1092.5,487.34 L1093.5,487.34 L1094.5,487.34 L1095.5,487.34 L1096.5,487.33 L1097.5,487.33 L1098.5,487.33 L1099.5,487.33 L1100.5,487.33 L1101.5,487.33 L1102.5,487.33 L1103.5,487.32 L1104.5,487.32 L1105.5,487.32 L1106.5,487.32 L1107.5,487.32 L1108.5,487.32 L1109.5,487.32 L1110.5,487.31 L1111.5,487.31 L1112.5,487.31 L1113.5,487.31 L1114.5,487.31 L1115.5,487.31 L1116.5,487.31 L1117.5,487.3 L1118.5,487.3 L1119.5,487.3 L1120.5,487.3 L1121.5,487.3 L1122.5,487.3 L1123.5,487.3 L1124.5,487.29 L1125.5,487.29 L1126.5,487.29 L1127.5,487.29 L1128.5,487.29 L1129.5,487.29 L1130.5,487.29 L1131.5,487.28 L1132.5,487.28 L1133.5,487.28 L1134.5,487.28 L1135.5,487.28 L1136.5,487.28 L1137.5,487.27 L1138.5,487.27 L1139.5,487.27 L1140.5,487.27 L1141.5,487.27 L1142.5,487.27 L1143.5,487.26 L1144.5,487.26 L1145.5,487.26 L1146.5,487.26 L1147.5,487.26 L1148.5,487.26 L1149.5,487.25 L1150.5,487.25 L1151.5,487.25 L1152.5,487.25 L1153.5,487.25 L1154.5,487.24 L1155.5,487.24 L1156.5,487.24 L1157.5,487.24 L1158.5,487.23 L1159.5,487.23 L1160.5,487.23 L1161.5,487.23 L1162.5,487.22 L1163.5,487.22 L1164.5,487.22 L1165.5,487.21 L1166.5,487.21 L1167.5,487.21 L1168.5,487.2 L1169.5,487.2 L1170.5,487.2 L1171.5,487.19 L1172.5,487.19 L1173.5,487.18 L1174.5,487.18 L1175.5,487.17 L1176.5,487.17 L1177.5,487.16 L1178.5,487.16 L1179.5,487.15 L1180.5,487.15 L1181.5,487.14 L1182.5,487.13 L1183.5,487.12 L1184.5,487.12 L1185.5,487.11 L1186.5,487.1 L1187.5,487.09 L1188.5,487.08 L1189.5,487.07 L1190.5,487.06 L1191.5,487.05 L1192.5,487.03 L1193.5,487.02 L1194.5,487 L1195.5,486.99 L1196.5,486.97 L1197.5,486.96 L1198.5,486.94 L1199.5,486.92 L1200.5,486.9 L1201.5,486.87 L1202.5,486.85 L1203.5,486.83 L1204.5,486.8 L1205.5,486.77 L1206.5,486.74 L1207.5,486.71 L1208.5,486.68 L1209.5,486.64 L1210.5,486.6 L1211.5,486.56 L1212.5,486.52 L1213.5,486.47 L1214.5,486.42 L1215.5,486.37 L1216.5,486.32 L1217.5,486.26 L1218.5,486.2 L1219.5,486.14 L1220.5,486.07 L1221.5,486 L1222.5,485.92 L1223.5,485.84 L1224.5,485.75 L1225.5,485.66 L1226.5,485.57 L1227.5,485.47 L1228.5,485.36 L1229.5,485.25 L1230.5,485.14 L1231.5,485.01 L1232.5,484.89 L1233.5,484.75 L1234.5,484.61 L1235.5,484.46 L1236.5,484.3 L1237.5,484.14 L1238.5,483.97 L1239.5,483.79 L1240.5,483.6 L1241.5,483.4 L1242.5,483.2 L1243.5,482.98 L1244.5,482.76 L1245.5,482.52 L1246.5,482.28 L1247.5,482.03 L1248.5,481.76 L1249.5,481.49 L1250.5,481.2 L1251.5,480.91 L1252.5,480.6 L1253.5,480.28 L1254.5,479.95 L1255.5,479.6 L1256.5,479.25 L1257.5,478.88 L1258.5,478.5 L1259.5,478.11 L1260.5,477.7 L1261.5,477.28 L1262.5,476.85 L1263.5,476.41 L1264.5,475.95 L1265.5,475.47 L1266.5,474.99 L1267.5,474.49 L1268.5,473.97 L1269.5,473.44 L1270.5,472.9 L1271.5,472.34 L1272.5,471.77 L1273.5,471.18 L1274.5,470.58 L1275.5,469.97 L1276.5,469.34 L1277.5,468.69 L1278.5,468.03 L1279.5,467.35 L1280.5,466.66 L1281.5,465.96 L1282.5,465.24 L1283.5,464.5 L1284.5,463.75 L1285.5,462.99 L1286.5,462.21 L1287.5,461.41 L1288.5,460.6 L1289.5,459.78 L1290.5,458.94 L1291.5,458.09 L1292.5,457.22 L1293.5,456.33 L1294.5,455.43 L1295.5,454.52 L1296.5,453.59 L1297.5,452.65 L1298.5,451.69 L1299.5,450.72 L1300.5,449.73 L1301.5,448.73 L1302.5,447.71 L1303.5,446.68 L1304.5,445.63 L1305.5,444.57 L1306.5,443.5 L1307.5,442.41 L1308.5,441.31 L1309.5,440.2 L1310.5,439.06 L1311.5,437.92 L1312.5,436.76 L1313.5,435.59 L1314.5,434.4 L1315.5,433.21 L1316.5,431.99 L1317.5,430.77 L1318.5,429.52 L1319.5,428.27 L1320.5,427 L1321.5,425.72 L1322.5,424.43 L1323.5,423.12 L1324.5,421.8 L1325.5,420.47 L1326.5,419.12 L1327.5,417.76 L1328.5,416.39 L1329.5,415 L1330.5,413.6 L1331.5,412.19 L1332.5,410.77 L1333.5,409.33 L1334.5,407.88 L1335.5,406.42 L1336.5,404.94 L1337.5,403.45 L1338.5,401.95 L1339.5,400.44 L1340.5,398.92 L1341.5,397.38 L1342.5,395.83 L1343.5,394.27 L1344.5,392.69 L1345.5,391.11 L1346.5,389.51 L1347.5,387.9 L1348.5,386.28 L1349.5,384.64 L1350.5,382.99 L1351.5,381.34 L1352.5,379.67 L1353.5,377.98 L1354.5,376.29 L1355.5,374.58 L1356.5,372.87 L1357.5,371.14 L1358.5,369.4 L1359.5,367.64 L1360.5,365.88 L1361.5,364.11 L1362.5,362.32 L1363.5,360.52 L1364.5,358.71 L1365.5,356.89 L1366.5,355.06 L1367.5,353.21 L1368.5,351.36 L1369.5,349.49 L1370.5,347.61 L1371.5,345.72 L1372.5,343.82 L1373.5,341.91 L1374.5,339.99 L1375.5,338.06 L1376.5,336.11 L1377.5,334.16 L1378.5,332.19 L1379.5,330.21 L1380.5,328.22 L1381.5,326.22 L1382.5,324.21 L1383.5,322.19 L1384.5,320.16 L1385.5,318.12 L1386.5,316.06 L1387.5,314 L1388.5,311.92 L1389.5,309.83 L1390.5,307.74 L1391.5,305.63 L1392.5,303.51 L1393.5,301.38 L1394.5,299.24 L1395.5,297.09 L1396.5,294.93 L1397.5,292.76 L1398.5,290.58 L1399.5,288.38 L1400.5,286.18 L1401.5,283.97 L1402.5,281.74 L1403.5,279.51 L1404.5,277.26 L1405.5,275.01 L1406.5,272.74 L1407.5,270.46 L1408.5,268.18 L1409.5,265.88 L1410.5,263.57 L1411.5,261.25 L1412.5,258.93 L1413.5,256.59 L1414.5,254.24 L1415.5,251.88 L1416.5,249.51 L1417.5,247.13 L1418.5,244.74 L1419.5,242.34 L1420.5,239.93 L1421.5,237.51 L1422.5,235.08 L1423.5,232.64 L1424.5,230.19 L1425.5,227.73 L1426.5,225.26 L1427.5,222.78 L1428.5,220.29 L1429.5,217.79 L1430.5,215.28 L1431.5,212.76 L1432.5,210.22 L1433.5,207.68 L1434.5,205.13 L1435.5,202.57 L1436.5,200 L1437.5,197.42 L1438.5,194.83 L1439.5,192.23 L1440.5,189.62 L1441.5,187 L1442.5,184.37 L1443.5,181.73 L1444.5,179.08 L1445.5,176.42 L1446.5,173.75 L1447.5,171.07 L1448.5,168.38 L1449.5,165.69 L1450.5,162.98 L1451.5,160.26 L1452.5,157.53 L1453.5,154.79 L1454.5,152.05 L1455.5,149.29 L1456.5,146.52 L1457.5,143.75 L1458.5,140.96 L1459.5,138.16 L1460.5,135.36 L1461.5,132.54 L1462.5,129.72 L1463.5,126.89 L1464.5,124.04 L1465.5,121.19 L1466.5,118.33 L1467.5,115.45 L1468.2,113.44" fill="none" stroke="#E8141C" stroke-width="2.8" stroke-linecap="butt" stroke-linejoin="round" />
<path d="M896.5,487.44 L897.5,487.44 L898.5,487.44 L899.5,487.44 L900.5,487.44 L901.5,487.44 L902.5,487.44 L903.5,487.44 L904.5,487.44 L905.5,487.44 L906.5,487.44 L907.5,487.44 L908.5,487.44 L909.5,487.44 L910.5,487.44 L911.5,487.44 L912.5,487.44 L913.5,487.44 L914.5,487.44 L915.5,487.44 L916.5,487.44 L917.5,487.44 L918.5,487.44 L919.5,487.44 L920.5,487.44 L921.5,487.44 L922.5,487.44 L923.5,487.44 L924.5,487.44 L925.5,487.44 L926.5,487.44 L927.5,487.44 L928.5,487.44 L929.5,487.44 L930.5,487.44 L931.5,487.44 L932.5,487.44 L933.5,487.44 L934.5,487.44 L935.5,487.44 L936.5,487.44 L937.5,487.44 L938.5,487.44 L939.5,487.44 L940.5,487.44 L941.5,487.44 L942.5,487.44 L943.5,487.44 L944.5,487.44 L945.5,487.44 L946.5,487.44 L947.5,487.44 L948.5,487.44 L949.5,487.44 L950.5,487.43 L951.5,487.43 L952.5,487.43 L953.5,487.43 L954.5,487.43 L955.5,487.43 L956.5,487.43 L957.5,487.43 L958.5,487.43 L959.5,487.43 L960.5,487.43 L961.5,487.43 L962.5,487.43 L963.5,487.43 L964.5,487.43 L965.5,487.43 L966.5,487.43 L967.5,487.43 L968.5,487.43 L969.5,487.43 L970.5,487.43 L971.5,487.43 L972.5,487.43 L973.5,487.43 L974.5,487.43 L975.5,487.43 L976.5,487.43 L977.5,487.43 L978.5,487.43 L979.5,487.43 L980.5,487.43 L981.5,487.43 L982.5,487.43 L983.5,487.43 L984.5,487.43 L985.5,487.43 L986.5,487.43 L987.5,487.43 L988.5,487.43 L989.5,487.43 L990.5,487.43 L991.5,487.43 L992.5,487.43 L993.5,487.43 L994.5,487.43 L995.5,487.43 L996.5,487.43 L997.5,487.43 L998.5,487.43 L999.5,487.43 L1000.5,487.43 L1001.5,487.43 L1002.5,487.43 L1003.5,487.43 L1004.5,487.43 L1005.5,487.43 L1006.5,487.43 L1007.5,487.43 L1008.5,487.43 L1009.5,487.43 L1010.5,487.43 L1011.5,487.43 L1012.5,487.43 L1013.5,487.43 L1014.5,487.43 L1015.5,487.43 L1016.5,487.43 L1017.5,487.43 L1018.5,487.43 L1019.5,487.43 L1020.5,487.43 L1021.5,487.43 L1022.5,487.43 L1023.5,487.43 L1024.5,487.43 L1025.5,487.43 L1026.5,487.43 L1027.5,487.43 L1028.5,487.43 L1029.5,487.43 L1030.5,487.43 L1031.5,487.43 L1032.5,487.43 L1033.5,487.43 L1034.5,487.43 L1035.5,487.43 L1036.5,487.43 L1037.5,487.43 L1038.5,487.43 L1039.5,487.43 L1040.5,487.43 L1041.5,487.43 L1042.5,487.43 L1043.5,487.43 L1044.5,487.43 L1045.5,487.43 L1046.5,487.43 L1047.5,487.43 L1048.5,487.43 L1049.5,487.43 L1050.5,487.43 L1051.5,487.43 L1052.5,487.43 L1053.5,487.43 L1054.5,487.43 L1055.5,487.43 L1056.5,487.42 L1057.5,487.42 L1058.5,487.42 L1059.5,487.42 L1060.5,487.42 L1061.5,487.42 L1062.5,487.42 L1063.5,487.42 L1064.5,487.42 L1065.5,487.42 L1066.5,487.42 L1067.5,487.42 L1068.5,487.42 L1069.5,487.42 L1070.5,487.42 L1071.5,487.42 L1072.5,487.42 L1073.5,487.42 L1074.5,487.42 L1075.5,487.42 L1076.5,487.42 L1077.5,487.42 L1078.5,487.42 L1079.5,487.42 L1080.5,487.42 L1081.5,487.42 L1082.5,487.42 L1083.5,487.42 L1084.5,487.42 L1085.5,487.42 L1086.5,487.42 L1087.5,487.42 L1088.5,487.42 L1089.5,487.42 L1090.5,487.42 L1091.5,487.42 L1092.5,487.42 L1093.5,487.42 L1094.5,487.42 L1095.5,487.42 L1096.5,487.42 L1097.5,487.42 L1098.5,487.42 L1099.5,487.42 L1100.5,487.42 L1101.5,487.42 L1102.5,487.42 L1103.5,487.42 L1104.5,487.42 L1105.5,487.42 L1106.5,487.42 L1107.5,487.42 L1108.5,487.42 L1109.5,487.42 L1110.5,487.42 L1111.5,487.42 L1112.5,487.42 L1113.5,487.42 L1114.5,487.42 L1115.5,487.42 L1116.5,487.42 L1117.5,487.42 L1118.5,487.42 L1119.5,487.42 L1120.5,487.42 L1121.5,487.42 L1122.5,487.41 L1123.5,487.41 L1124.5,487.41 L1125.5,487.41 L1126.5,487.41 L1127.5,487.41 L1128.5,487.41 L1129.5,487.41 L1130.5,487.41 L1131.5,487.41 L1132.5,487.41 L1133.5,487.41 L1134.5,487.41 L1135.5,487.41 L1136.5,487.41 L1137.5,487.41 L1138.5,487.41 L1139.5,487.41 L1140.5,487.4 L1141.5,487.4 L1142.5,487.4 L1143.5,487.4 L1144.5,487.4 L1145.5,487.4 L1146.5,487.4 L1147.5,487.4 L1148.5,487.4 L1149.5,487.39 L1150.5,487.39 L1151.5,487.39 L1152.5,487.39 L1153.5,487.39 L1154.5,487.39 L1155.5,487.38 L1156.5,487.38 L1157.5,487.38 L1158.5,487.38 L1159.5,487.37 L1160.5,487.37 L1161.5,487.37 L1162.5,487.37 L1163.5,487.36 L1164.5,487.36 L1165.5,487.35 L1166.5,487.35 L1167.5,487.35 L1168.5,487.34 L1169.5,487.34 L1170.5,487.33 L1171.5,487.33 L1172.5,487.32 L1173.5,487.31 L1174.5,487.31 L1175.5,487.3 L1176.5,487.29 L1177.5,487.29 L1178.5,487.28 L1179.5,487.27 L1180.5,487.26 L1181.5,487.25 L1182.5,487.24 L1183.5,487.23 L1184.5,487.22 L1185.5,487.2 L1186.5,487.19 L1187.5,487.17 L1188.5,487.16 L1189.5,487.14 L1190.5,487.13 L1191.5,487.11 L1192.5,487.09 L1193.5,487.07 L1194.5,487.05 L1195.5,487.02 L1196.5,487 L1197.5,486.97 L1198.5,486.95 L1199.5,486.92 L1200.5,486.89 L1201.5,486.85 L1202.5,486.82 L1203.5,486.78 L1204.5,486.74 L1205.5,486.7 L1206.5,486.66 L1207.5,486.61 L1208.5,486.56 L1209.5,486.51 L1210.5,486.46 L1211.5,486.4 L1212.5,486.34 L1213.5,486.28 L1214.5,486.21 L1215.5,486.14 L1216.5,486.06 L1217.5,485.98 L1218.5,485.9 L1219.5,485.81 L1220.5,485.72 L1221.5,485.62 L1222.5,485.52 L1223.5,485.41 L1224.5,485.3 L1225.5,485.18 L1226.5,485.06 L1227.5,484.93 L1228.5,484.79 L1229.5,484.65 L1230.5,484.49 L1231.5,484.34 L1232.5,484.17 L1233.5,484 L1234.5,483.81 L1235.5,483.62 L1236.5,483.43 L1237.5,483.22 L1238.5,483 L1239.5,482.78 L1240.5,482.54 L1241.5,482.29 L1242.5,482.04 L1243.5,481.77 L1244.5,481.49 L1245.5,481.21 L1246.5,480.91 L1247.5,480.59 L1248.5,480.27 L1249.5,479.94 L1250.5,479.59 L1251.5,479.23 L1252.5,478.85 L1253.5,478.47 L1254.5,478.06 L1255.5,477.65 L1256.5,477.22 L1257.5,476.78 L1258.5,476.32 L1259.5,475.85 L1260.5,475.37 L1261.5,474.86 L1262.5,474.35 L1263.5,473.82 L1264.5,473.27 L1265.5,472.71 L1266.5,472.13 L1267.5,471.54 L1268.5,470.93 L1269.5,470.3 L1270.5,469.66 L1271.5,469 L1272.5,468.32 L1273.5,467.63 L1274.5,466.92 L1275.5,466.2 L1276.5,465.46 L1277.5,464.7 L1278.5,463.93 L1279.5,463.13 L1280.5,462.33 L1281.5,461.5 L1282.5,460.66 L1283.5,459.8 L1284.5,458.93 L1285.5,458.04 L1286.5,457.13 L1287.5,456.2 L1288.5,455.26 L1289.5,454.3 L1290.5,453.33 L1291.5,452.34 L1292.5,451.33 L1293.5,450.31 L1294.5,449.27 L1295.5,448.21 L1296.5,447.14 L1297.5,446.06 L1298.5,444.95 L1299.5,443.83 L1300.5,442.7 L1301.5,441.55 L1302.5,440.38 L1303.5,439.2 L1304.5,438 L1305.5,436.79 L1306.5,435.57 L1307.5,434.32 L1308.5,433.07 L1309.5,431.79 L1310.5,430.51 L1311.5,429.21 L1312.5,427.89 L1313.5,426.56 L1314.5,425.22 L1315.5,423.86 L1316.5,422.49 L1317.5,421.1 L1318.5,419.7 L1319.5,418.28 L1320.5,416.86 L1321.5,415.41 L1322.5,413.96 L1323.5,412.49 L1324.5,411.01 L1325.5,409.51 L1326.5,408 L1327.5,406.48 L1328.5,404.95 L1329.5,403.4 L1330.5,401.84 L1331.5,400.27 L1332.5,398.68 L1333.5,397.09 L1334.5,395.48 L1335.5,393.85 L1336.5,392.22 L1337.5,390.57 L1338.5,388.91 L1339.5,387.24 L1340.5,385.56 L1341.5,383.86 L1342.5,382.16 L1343.5,380.44 L1344.5,378.71 L1345.5,376.97 L1346.5,375.22 L1347.5,373.45 L1348.5,371.68 L1349.5,369.89 L1350.5,368.09 L1351.5,366.28 L1352.5,364.46 L1353.5,362.63 L1354.5,360.79 L1355.5,358.94 L1356.5,357.07 L1357.5,355.2 L1358.5,353.32 L1359.5,351.42 L1360.5,349.51 L1361.5,347.6 L1362.5,345.67 L1363.5,343.73 L1364.5,341.78 L1365.5,339.83 L1366.5,337.86 L1367.5,335.88 L1368.5,333.89 L1369.5,331.89 L1370.5,329.88 L1371.5,327.86 L1372.5,325.83 L1373.5,323.79 L1374.5,321.75 L1375.5,319.69 L1376.5,317.62 L1377.5,315.54 L1378.5,313.45 L1379.5,311.35 L1380.5,309.25 L1381.5,307.13 L1382.5,305 L1383.5,302.87 L1384.5,300.72 L1385.5,298.57 L1386.5,296.4 L1387.5,294.23 L1388.5,292.05 L1389.5,289.85 L1390.5,287.65 L1391.5,285.44 L1392.5,283.22 L1393.5,280.99 L1394.5,278.76 L1395.5,276.51 L1396.5,274.25 L1397.5,271.99 L1398.5,269.71 L1399.5,267.43 L1400.5,265.14 L1401.5,262.84 L1402.5,260.53 L1403.5,258.21 L1404.5,255.88 L1405.5,253.54 L1406.5,251.2 L1407.5,248.84 L1408.5,246.48 L1409.5,244.11 L1410.5,241.73 L1411.5,239.34 L1412.5,236.94 L1413.5,234.54 L1414.5,232.12 L1415.5,229.7 L1416.5,227.27 L1417.5,224.83 L1418.5,222.38 L1419.5,219.92 L1420.5,217.46 L1421.5,214.98 L1422.5,212.5 L1423.5,210.01 L1424.5,207.51 L1425.5,205.01 L1426.5,202.49 L1427.5,199.97 L1428.5,197.43 L1429.5,194.89 L1430.5,192.35 L1431.5,189.79 L1432.5,187.23 L1433.5,184.65 L1434.5,182.07 L1435.5,179.48 L1436.5,176.89 L1437.5,174.28 L1438.5,171.67 L1439.5,169.05 L1440.5,166.42 L1441.5,163.78 L1442.5,161.14 L1443.5,158.48 L1444.5,155.82 L1445.5,153.15 L1446.5,150.48 L1447.5,147.79 L1448.5,145.1 L1449.5,142.4 L1450.5,139.69 L1451.5,136.98 L1452.5,134.25 L1453.5,131.52 L1454.5,128.78 L1455.5,126.04 L1456.5,123.28 L1457.5,120.52 L1458.5,117.75 L1459.5,114.97 L1460.5,112.19 L1461.5,109.39 L1462.5,106.59 L1463.5,103.78 L1464.5,100.97 L1465.5,98.14 L1466.5,95.31 L1467.5,92.48 L1468.2,90.48" fill="none" stroke="#087A08" stroke-width="2.8" stroke-linecap="butt" stroke-linejoin="round" />
<path d="M896.5,487.47 L897.5,487.47 L898.5,487.47 L899.5,487.46 L900.5,487.46 L901.5,487.46 L902.5,487.46 L903.5,487.45 L904.5,487.45 L905.5,487.45 L906.5,487.45 L907.5,487.45 L908.5,487.44 L909.5,487.44 L910.5,487.44 L911.5,487.44 L912.5,487.43 L913.5,487.43 L914.5,487.43 L915.5,487.43 L916.5,487.43 L917.5,487.42 L918.5,487.42 L919.5,487.42 L920.5,487.42 L921.5,487.41 L922.5,487.41 L923.5,487.41 L924.5,487.41 L925.5,487.41 L926.5,487.4 L927.5,487.4 L928.5,487.4 L929.5,487.4 L930.5,487.39 L931.5,487.39 L932.5,487.39 L933.5,487.39 L934.5,487.39 L935.5,487.38 L936.5,487.38 L937.5,487.38 L938.5,487.38 L939.5,487.37 L940.5,487.37 L941.5,487.37 L942.5,487.37 L943.5,487.37 L944.5,487.36 L945.5,487.36 L946.5,487.36 L947.5,487.36 L948.5,487.35 L949.5,487.35 L950.5,487.35 L951.5,487.35 L952.5,487.35 L953.5,487.34 L954.5,487.34 L955.5,487.34 L956.5,487.34 L957.5,487.33 L958.5,487.33 L959.5,487.33 L960.5,487.33 L961.5,487.33 L962.5,487.32 L963.5,487.32 L964.5,487.32 L965.5,487.32 L966.5,487.31 L967.5,487.31 L968.5,487.31 L969.5,487.31 L970.5,487.31 L971.5,487.3 L972.5,487.3 L973.5,487.3 L974.5,487.3 L975.5,487.29 L976.5,487.29 L977.5,487.29 L978.5,487.29 L979.5,487.29 L980.5,487.28 L981.5,487.28 L982.5,487.28 L983.5,487.28 L984.5,487.27 L985.5,487.27 L986.5,487.27 L987.5,487.27 L988.5,487.27 L989.5,487.26 L990.5,487.26 L991.5,487.26 L992.5,487.26 L993.5,487.25 L994.5,487.25 L995.5,487.25 L996.5,487.25 L997.5,487.25 L998.5,487.24 L999.5,487.24 L1000.5,487.24 L1001.5,487.24 L1002.5,487.23 L1003.5,487.23 L1004.5,487.23 L1005.5,487.23 L1006.5,487.23 L1007.5,487.22 L1008.5,487.22 L1009.5,487.22 L1010.5,487.22 L1011.5,487.21 L1012.5,487.21 L1013.5,487.21 L1014.5,487.21 L1015.5,487.21 L1016.5,487.2 L1017.5,487.2 L1018.5,487.2 L1019.5,487.2 L1020.5,487.19 L1021.5,487.19 L1022.5,487.19 L1023.5,487.19 L1024.5,487.19 L1025.5,487.18 L1026.5,487.18 L1027.5,487.18 L1028.5,487.18 L1029.5,487.17 L1030.5,487.17 L1031.5,487.17 L1032.5,487.17 L1033.5,487.17 L1034.5,487.16 L1035.5,487.16 L1036.5,487.16 L1037.5,487.16 L1038.5,487.15 L1039.5,487.15 L1040.5,487.15 L1041.5,487.15 L1042.5,487.15 L1043.5,487.14 L1044.5,487.14 L1045.5,487.14 L1046.5,487.14 L1047.5,487.13 L1048.5,487.13 L1049.5,487.13 L1050.5,487.13 L1051.5,487.13 L1052.5,487.12 L1053.5,487.12 L1054.5,487.12 L1055.5,487.12 L1056.5,487.11 L1057.5,487.11 L1058.5,487.11 L1059.5,487.11 L1060.5,487.1 L1061.5,487.1 L1062.5,487.1 L1063.5,487.1 L1064.5,487.1 L1065.5,487.09 L1066.5,487.09 L1067.5,487.09 L1068.5,487.09 L1069.5,487.08 L1070.5,487.08 L1071.5,487.08 L1072.5,487.08 L1073.5,487.08 L1074.5,487.07 L1075.5,487.07 L1076.5,487.07 L1077.5,487.07 L1078.5,487.06 L1079.5,487.06 L1080.5,487.06 L1081.5,487.06 L1082.5,487.06 L1083.5,487.05 L1084.5,487.05 L1085.5,487.05 L1086.5,487.05 L1087.5,487.04 L1088.5,487.04 L1089.5,487.04 L1090.5,487.04 L1091.5,487.04 L1092.5,487.03 L1093.5,487.03 L1094.5,487.03 L1095.5,487.03 L1096.5,487.02 L1097.5,487.02 L1098.5,487.02 L1099.5,487.02 L1100.5,487.02 L1101.5,487.01 L1102.5,487.01 L1103.5,487.01 L1104.5,487.01 L1105.5,487 L1106.5,487 L1107.5,487 L1108.5,487 L1109.5,487 L1110.5,486.99 L1111.5,486.99 L1112.5,486.99 L1113.5,486.99 L1114.5,486.98 L1115.5,486.98 L1116.5,486.98 L1117.5,486.98 L1118.5,486.97 L1119.5,486.97 L1120.5,486.97 L1121.5,486.97 L1122.5,486.96 L1123.5,486.96 L1124.5,486.96 L1125.5,486.96 L1126.5,486.95 L1127.5,486.95 L1128.5,486.95 L1129.5,486.95 L1130.5,486.94 L1131.5,486.94 L1132.5,486.94 L1133.5,486.94 L1134.5,486.93 L1135.5,486.93 L1136.5,486.93 L1137.5,486.93 L1138.5,486.92 L1139.5,486.92 L1140.5,486.92 L1141.5,486.92 L1142.5,486.91 L1143.5,486.91 L1144.5,486.91 L1145.5,486.9 L1146.5,486.9 L1147.5,486.9 L1148.5,486.89 L1149.5,486.89 L1150.5,486.89 L1151.5,486.88 L1152.5,486.88 L1153.5,486.88 L1154.5,486.87 L1155.5,486.87 L1156.5,486.86 L1157.5,486.86 L1158.5,486.86 L1159.5,486.85 L1160.5,486.85 L1161.5,486.84 L1162.5,486.84 L1163.5,486.83 L1164.5,486.83 L1165.5,486.82 L1166.5,486.82 L1167.5,486.81 L1168.5,486.8 L1169.5,486.8 L1170.5,486.79 L1171.5,486.78 L1172.5,486.78 L1173.5,486.77 L1174.5,486.76 L1175.5,486.75 L1176.5,486.74 L1177.5,486.73 L1178.5,486.72 L1179.5,486.71 L1180.5,486.7 L1181.5,486.69 L1182.5,486.68 L1183.5,486.66 L1184.5,486.65 L1185.5,486.63 L1186.5,486.62 L1187.5,486.6 L1188.5,486.59 L1189.5,486.57 L1190.5,486.55 L1191.5,486.53 L1192.5,486.51 L1193.5,486.48 L1194.5,486.46 L1195.5,486.43 L1196.5,486.41 L1197.5,486.38 L1198.5,486.35 L1199.5,486.31 L1200.5,486.28 L1201.5,486.24 L1202.5,486.2 L1203.5,486.16 L1204.5,486.12 L1205.5,486.07 L1206.5,486.02 L1207.5,485.97 L1208.5,485.92 L1209.5,485.86 L1210.5,485.8 L1211.5,485.73 L1212.5,485.66 L1213.5,485.59 L1214.5,485.51 L1215.5,485.43 L1216.5,485.34 L1217.5,485.25 L1218.5,485.15 L1219.5,485.05 L1220.5,484.94 L1221.5,484.83 L1222.5,484.71 L1223.5,484.58 L1224.5,484.45 L1225.5,484.31 L1226.5,484.16 L1227.5,484 L1228.5,483.84 L1229.5,483.66 L1230.5,483.48 L1231.5,483.29 L1232.5,483.09 L1233.5,482.88 L1234.5,482.66 L1235.5,482.42 L1236.5,482.18 L1237.5,481.93 L1238.5,481.66 L1239.5,481.38 L1240.5,481.09 L1241.5,480.78 L1242.5,480.47 L1243.5,480.14 L1244.5,479.79 L1245.5,479.43 L1246.5,479.06 L1247.5,478.67 L1248.5,478.26 L1249.5,477.84 L1250.5,477.41 L1251.5,476.96 L1252.5,476.49 L1253.5,476 L1254.5,475.5 L1255.5,474.98 L1256.5,474.44 L1257.5,473.88 L1258.5,473.31 L1259.5,472.72 L1260.5,472.11 L1261.5,471.48 L1262.5,470.83 L1263.5,470.17 L1264.5,469.48 L1265.5,468.78 L1266.5,468.06 L1267.5,467.31 L1268.5,466.55 L1269.5,465.77 L1270.5,464.97 L1271.5,464.15 L1272.5,463.32 L1273.5,462.46 L1274.5,461.58 L1275.5,460.69 L1276.5,459.78 L1277.5,458.84 L1278.5,457.89 L1279.5,456.92 L1280.5,455.93 L1281.5,454.92 L1282.5,453.9 L1283.5,452.85 L1284.5,451.79 L1285.5,450.71 L1286.5,449.61 L1287.5,448.49 L1288.5,447.36 L1289.5,446.21 L1290.5,445.04 L1291.5,443.85 L1292.5,442.65 L1293.5,441.43 L1294.5,440.19 L1295.5,438.94 L1296.5,437.67 L1297.5,436.38 L1298.5,435.08 L1299.5,433.76 L1300.5,432.43 L1301.5,431.08 L1302.5,429.72 L1303.5,428.34 L1304.5,426.95 L1305.5,425.54 L1306.5,424.11 L1307.5,422.68 L1308.5,421.22 L1309.5,419.76 L1310.5,418.28 L1311.5,416.78 L1312.5,415.27 L1313.5,413.75 L1314.5,412.22 L1315.5,410.67 L1316.5,409.11 L1317.5,407.53 L1318.5,405.95 L1319.5,404.35 L1320.5,402.73 L1321.5,401.11 L1322.5,399.47 L1323.5,397.82 L1324.5,396.16 L1325.5,394.49 L1326.5,392.8 L1327.5,391.1 L1328.5,389.4 L1329.5,387.68 L1330.5,385.94 L1331.5,384.2 L1332.5,382.45 L1333.5,380.68 L1334.5,378.91 L1335.5,377.12 L1336.5,375.32 L1337.5,373.52 L1338.5,371.7 L1339.5,369.87 L1340.5,368.03 L1341.5,366.18 L1342.5,364.32 L1343.5,362.45 L1344.5,360.57 L1345.5,358.68 L1346.5,356.78 L1347.5,354.87 L1348.5,352.95 L1349.5,351.02 L1350.5,349.08 L1351.5,347.13 L1352.5,345.18 L1353.5,343.21 L1354.5,341.23 L1355.5,339.25 L1356.5,337.25 L1357.5,335.25 L1358.5,333.23 L1359.5,331.21 L1360.5,329.18 L1361.5,327.14 L1362.5,325.09 L1363.5,323.03 L1364.5,320.97 L1365.5,318.89 L1366.5,316.81 L1367.5,314.72 L1368.5,312.61 L1369.5,310.5 L1370.5,308.39 L1371.5,306.26 L1372.5,304.13 L1373.5,301.98 L1374.5,299.83 L1375.5,297.67 L1376.5,295.5 L1377.5,293.33 L1378.5,291.14 L1379.5,288.95 L1380.5,286.75 L1381.5,284.54 L1382.5,282.33 L1383.5,280.1 L1384.5,277.87 L1385.5,275.63 L1386.5,273.39 L1387.5,271.13 L1388.5,268.87 L1389.5,266.6 L1390.5,264.32 L1391.5,262.03 L1392.5,259.74 L1393.5,257.44 L1394.5,255.13 L1395.5,252.81 L1396.5,250.49 L1397.5,248.16 L1398.5,245.82 L1399.5,243.47 L1400.5,241.12 L1401.5,238.76 L1402.5,236.39 L1403.5,234.02 L1404.5,231.64 L1405.5,229.25 L1406.5,226.85 L1407.5,224.44 L1408.5,222.03 L1409.5,219.62 L1410.5,217.19 L1411.5,214.76 L1412.5,212.32 L1413.5,209.87 L1414.5,207.42 L1415.5,204.96 L1416.5,202.49 L1417.5,200.02 L1418.5,197.54 L1419.5,195.05 L1420.5,192.55 L1421.5,190.05 L1422.5,187.54 L1423.5,185.03 L1424.5,182.51 L1425.5,179.98 L1426.5,177.44 L1427.5,174.9 L1428.5,172.35 L1429.5,169.8 L1430.5,167.23 L1431.5,164.67 L1432.5,162.09 L1433.5,159.51 L1434.5,156.92 L1435.5,154.33 L1436.5,151.72 L1437.5,149.12 L1438.5,146.5 L1439.5,143.88 L1440.5,141.25 L1441.5,138.62 L1442.5,135.98 L1443.5,133.33 L1444.5,130.68 L1445.5,128.02 L1446.5,125.36 L1447.5,122.68 L1448.5,120.01 L1449.5,117.32 L1450.5,114.63 L1451.5,111.93 L1452.5,109.23 L1453.5,106.52 L1454.5,103.8 L1455.5,101.08 L1456.5,98.36 L1457.5,95.62 L1458.5,92.88 L1459.5,90.13 L1460.5,87.38 L1461.5,84.62 L1462.5,81.86 L1463.5,79.09 L1464.5,76.31 L1465.5,73.53 L1466.5,70.74 L1467.5,67.94 L1468.5,65.14 L1468.6,64.86" fill="none" stroke="#0000E6" stroke-width="2.8" stroke-linecap="butt" stroke-linejoin="round" />
<path d="M896.5,487.05 L897.5,487.05 L898.5,487.04 L899.5,487.03 L900.5,487.03 L901.5,487.02 L902.5,487.01 L903.5,487.01 L904.5,487 L905.5,486.99 L906.5,486.99 L907.5,486.98 L908.5,486.98 L909.5,486.97 L910.5,486.96 L911.5,486.96 L912.5,486.95 L913.5,486.94 L914.5,486.94 L915.5,486.93 L916.5,486.92 L917.5,486.92 L918.5,486.91 L919.5,486.91 L920.5,486.9 L921.5,486.89 L922.5,486.89 L923.5,486.88 L924.5,486.87 L925.5,486.87 L926.5,486.86 L927.5,486.85 L928.5,486.85 L929.5,486.84 L930.5,486.84 L931.5,486.83 L932.5,486.82 L933.5,486.82 L934.5,486.81 L935.5,486.8 L936.5,486.8 L937.5,486.79 L938.5,486.78 L939.5,486.78 L940.5,486.77 L941.5,486.76 L942.5,486.76 L943.5,486.75 L944.5,486.75 L945.5,486.74 L946.5,486.73 L947.5,486.73 L948.5,486.72 L949.5,486.71 L950.5,486.71 L951.5,486.7 L952.5,486.69 L953.5,486.69 L954.5,486.68 L955.5,486.68 L956.5,486.67 L957.5,486.66 L958.5,486.66 L959.5,486.65 L960.5,486.64 L961.5,486.64 L962.5,486.63 L963.5,486.62 L964.5,486.62 L965.5,486.61 L966.5,486.61 L967.5,486.6 L968.5,486.59 L969.5,486.59 L970.5,486.58 L971.5,486.57 L972.5,486.57 L973.5,486.56 L974.5,486.55 L975.5,486.55 L976.5,486.54 L977.5,486.54 L978.5,486.53 L979.5,486.52 L980.5,486.52 L981.5,486.51 L982.5,486.5 L983.5,486.5 L984.5,486.49 L985.5,486.48 L986.5,486.48 L987.5,486.47 L988.5,486.47 L989.5,486.46 L990.5,486.45 L991.5,486.45 L992.5,486.44 L993.5,486.43 L994.5,486.43 L995.5,486.42 L996.5,486.41 L997.5,486.41 L998.5,486.4 L999.5,486.4 L1000.5,486.39 L1001.5,486.38 L1002.5,486.38 L1003.5,486.37 L1004.5,486.36 L1005.5,486.36 L1006.5,486.35 L1007.5,486.34 L1008.5,486.34 L1009.5,486.33 L1010.5,486.33 L1011.5,486.32 L1012.5,486.31 L1013.5,486.31 L1014.5,486.3 L1015.5,486.29 L1016.5,486.29 L1017.5,486.28 L1018.5,486.27 L1019.5,486.27 L1020.5,486.26 L1021.5,486.26 L1022.5,486.25 L1023.5,486.24 L1024.5,486.24 L1025.5,486.23 L1026.5,486.22 L1027.5,486.22 L1028.5,486.21 L1029.5,486.2 L1030.5,486.2 L1031.5,486.19 L1032.5,486.19 L1033.5,486.18 L1034.5,486.17 L1035.5,486.17 L1036.5,486.16 L1037.5,486.15 L1038.5,486.15 L1039.5,486.14 L1040.5,486.13 L1041.5,486.13 L1042.5,486.12 L1043.5,486.12 L1044.5,486.11 L1045.5,486.1 L1046.5,486.1 L1047.5,486.09 L1048.5,486.08 L1049.5,486.08 L1050.5,486.07 L1051.5,486.06 L1052.5,486.06 L1053.5,486.05 L1054.5,486.05 L1055.5,486.04 L1056.5,486.03 L1057.5,486.03 L1058.5,486.02 L1059.5,486.01 L1060.5,486.01 L1061.5,486 L1062.5,485.99 L1063.5,485.99 L1064.5,485.98 L1065.5,485.98 L1066.5,485.97 L1067.5,485.96 L1068.5,485.96 L1069.5,485.95 L1070.5,485.94 L1071.5,485.94 L1072.5,485.93 L1073.5,485.92 L1074.5,485.92 L1075.5,485.91 L1076.5,485.91 L1077.5,485.9 L1078.5,485.89 L1079.5,485.89 L1080.5,485.88 L1081.5,485.87 L1082.5,485.87 L1083.5,485.86 L1084.5,485.85 L1085.5,485.85 L1086.5,485.84 L1087.5,485.84 L1088.5,485.83 L1089.5,485.82 L1090.5,485.82 L1091.5,485.81 L1092.5,485.8 L1093.5,485.8 L1094.5,485.79 L1095.5,485.78 L1096.5,485.78 L1097.5,485.77 L1098.5,485.76 L1099.5,485.76 L1100.5,485.75 L1101.5,485.75 L1102.5,485.74 L1103.5,485.73 L1104.5,485.73 L1105.5,485.72 L1106.5,485.71 L1107.5,485.71 L1108.5,485.7 L1109.5,485.69 L1110.5,485.69 L1111.5,485.68 L1112.5,485.68 L1113.5,485.67 L1114.5,485.66 L1115.5,485.66 L1116.5,485.65 L1117.5,485.64 L1118.5,485.64 L1119.5,485.63 L1120.5,485.62 L1121.5,485.62 L1122.5,485.61 L1123.5,485.6 L1124.5,485.6 L1125.5,485.59 L1126.5,485.58 L1127.5,485.58 L1128.5,485.57 L1129.5,485.56 L1130.5,485.56 L1131.5,485.55 L1132.5,485.55 L1133.5,485.54 L1134.5,485.53 L1135.5,485.53 L1136.5,485.52 L1137.5,485.51 L1138.5,485.5 L1139.5,485.5 L1140.5,485.49 L1141.5,485.48 L1142.5,485.48 L1143.5,485.47 L1144.5,485.46 L1145.5,485.46 L1146.5,485.45 L1147.5,485.44 L1148.5,485.43 L1149.5,485.43 L1150.5,485.42 L1151.5,485.41 L1152.5,485.4 L1153.5,485.4 L1154.5,485.39 L1155.5,485.38 L1156.5,485.37 L1157.5,485.36 L1158.5,485.36 L1159.5,485.35 L1160.5,485.34 L1161.5,485.33 L1162.5,485.32 L1163.5,485.31 L1164.5,485.3 L1165.5,485.29 L1166.5,485.28 L1167.5,485.27 L1168.5,485.26 L1169.5,485.25 L1170.5,485.24 L1171.5,485.23 L1172.5,485.22 L1173.5,485.2 L1174.5,485.19 L1175.5,485.18 L1176.5,485.16 L1177.5,485.15 L1178.5,485.13 L1179.5,485.12 L1180.5,485.1 L1181.5,485.08 L1182.5,485.06 L1183.5,485.05 L1184.5,485.03 L1185.5,485 L1186.5,484.98 L1187.5,484.96 L1188.5,484.93 L1189.5,484.91 L1190.5,484.88 L1191.5,484.85 L1192.5,484.82 L1193.5,484.78 L1194.5,484.75 L1195.5,484.71 L1196.5,484.67 L1197.5,484.63 L1198.5,484.58 L1199.5,484.54 L1200.5,484.49 L1201.5,484.43 L1202.5,484.37 L1203.5,484.31 L1204.5,484.25 L1205.5,484.18 L1206.5,484.11 L1207.5,484.03 L1208.5,483.95 L1209.5,483.86 L1210.5,483.77 L1211.5,483.67 L1212.5,483.56 L1213.5,483.45 L1214.5,483.33 L1215.5,483.2 L1216.5,483.07 L1217.5,482.93 L1218.5,482.77 L1219.5,482.61 L1220.5,482.44 L1221.5,482.27 L1222.5,482.08 L1223.5,481.88 L1224.5,481.66 L1225.5,481.44 L1226.5,481.2 L1227.5,480.95 L1228.5,480.69 L1229.5,480.42 L1230.5,480.13 L1231.5,479.82 L1232.5,479.5 L1233.5,479.17 L1234.5,478.81 L1235.5,478.45 L1236.5,478.06 L1237.5,477.66 L1238.5,477.24 L1239.5,476.8 L1240.5,476.34 L1241.5,475.86 L1242.5,475.36 L1243.5,474.85 L1244.5,474.31 L1245.5,473.76 L1246.5,473.18 L1247.5,472.58 L1248.5,471.96 L1249.5,471.32 L1250.5,470.66 L1251.5,469.98 L1252.5,469.28 L1253.5,468.55 L1254.5,467.81 L1255.5,467.04 L1256.5,466.25 L1257.5,465.44 L1258.5,464.61 L1259.5,463.76 L1260.5,462.89 L1261.5,461.99 L1262.5,461.08 L1263.5,460.14 L1264.5,459.19 L1265.5,458.21 L1266.5,457.22 L1267.5,456.2 L1268.5,455.17 L1269.5,454.11 L1270.5,453.04 L1271.5,451.95 L1272.5,450.84 L1273.5,449.71 L1274.5,448.56 L1275.5,447.39 L1276.5,446.21 L1277.5,445.01 L1278.5,443.79 L1279.5,442.56 L1280.5,441.31 L1281.5,440.04 L1282.5,438.76 L1283.5,437.46 L1284.5,436.15 L1285.5,434.82 L1286.5,433.47 L1287.5,432.11 L1288.5,430.74 L1289.5,429.35 L1290.5,427.95 L1291.5,426.54 L1292.5,425.11 L1293.5,423.67 L1294.5,422.21 L1295.5,420.74 L1296.5,419.26 L1297.5,417.77 L1298.5,416.26 L1299.5,414.74 L1300.5,413.21 L1301.5,411.67 L1302.5,410.12 L1303.5,408.55 L1304.5,406.98 L1305.5,405.39 L1306.5,403.79 L1307.5,402.18 L1308.5,400.56 L1309.5,398.93 L1310.5,397.29 L1311.5,395.64 L1312.5,393.98 L1313.5,392.31 L1314.5,390.63 L1315.5,388.94 L1316.5,387.24 L1317.5,385.53 L1318.5,383.81 L1319.5,382.08 L1320.5,380.34 L1321.5,378.6 L1322.5,376.84 L1323.5,375.08 L1324.5,373.3 L1325.5,371.52 L1326.5,369.73 L1327.5,367.93 L1328.5,366.13 L1329.5,364.31 L1330.5,362.49 L1331.5,360.65 L1332.5,358.81 L1333.5,356.96 L1334.5,355.11 L1335.5,353.24 L1336.5,351.37 L1337.5,349.49 L1338.5,347.6 L1339.5,345.71 L1340.5,343.81 L1341.5,341.89 L1342.5,339.98 L1343.5,338.05 L1344.5,336.12 L1345.5,334.18 L1346.5,332.23 L1347.5,330.28 L1348.5,328.32 L1349.5,326.35 L1350.5,324.37 L1351.5,322.39 L1352.5,320.4 L1353.5,318.4 L1354.5,316.4 L1355.5,314.39 L1356.5,312.37 L1357.5,310.35 L1358.5,308.32 L1359.5,306.28 L1360.5,304.23 L1361.5,302.18 L1362.5,300.13 L1363.5,298.06 L1364.5,295.99 L1365.5,293.92 L1366.5,291.83 L1367.5,289.74 L1368.5,287.65 L1369.5,285.55 L1370.5,283.44 L1371.5,281.32 L1372.5,279.2 L1373.5,277.08 L1374.5,274.94 L1375.5,272.81 L1376.5,270.66 L1377.5,268.51 L1378.5,266.35 L1379.5,264.19 L1380.5,262.02 L1381.5,259.85 L1382.5,257.66 L1383.5,255.48 L1384.5,253.28 L1385.5,251.09 L1386.5,248.88 L1387.5,246.67 L1388.5,244.46 L1389.5,242.23 L1390.5,240.01 L1391.5,237.77 L1392.5,235.54 L1393.5,233.29 L1394.5,231.04 L1395.5,228.79 L1396.5,226.53 L1397.5,224.26 L1398.5,221.99 L1399.5,219.71 L1400.5,217.43 L1401.5,215.14 L1402.5,212.84 L1403.5,210.55 L1404.5,208.24 L1405.5,205.93 L1406.5,203.62 L1407.5,201.29 L1408.5,198.97 L1409.5,196.64 L1410.5,194.3 L1411.5,191.96 L1412.5,189.61 L1413.5,187.26 L1414.5,184.9 L1415.5,182.54 L1416.5,180.17 L1417.5,177.8 L1418.5,175.42 L1419.5,173.04 L1420.5,170.65 L1421.5,168.26 L1422.5,165.86 L1423.5,163.46 L1424.5,161.05 L1425.5,158.63 L1426.5,156.21 L1427.5,153.79 L1428.5,151.36 L1429.5,148.93 L1430.5,146.49 L1431.5,144.05 L1432.5,141.6 L1433.5,139.15 L1434.5,136.69 L1435.5,134.23 L1436.5,131.76 L1437.5,129.29 L1438.5,126.81 L1439.5,124.33 L1440.5,121.84 L1441.5,119.35 L1442.5,116.86 L1443.5,114.36 L1444.5,111.85 L1445.5,109.34 L1446.5,106.83 L1447.5,104.31 L1448.5,101.78 L1449.5,99.25 L1450.5,96.72 L1451.5,94.18 L1452.5,91.64 L1453.5,89.09 L1454.5,86.54 L1455.5,83.99 L1456.5,81.43 L1457.5,78.86 L1458.5,76.29 L1459.5,73.72 L1460.5,71.14 L1461.5,68.55 L1462.5,65.97 L1463.5,63.37 L1464.5,60.78 L1465.5,58.18 L1466.5,55.57 L1467.5,52.96 L1468.2,51.13" fill="none" stroke="#F58A1F" stroke-width="2.8" stroke-linecap="butt" stroke-linejoin="round" />
<rect x="896.5" y="15.6" width="656.3" height="485.8" fill="none" stroke="#000" stroke-width="3.2" stroke-linejoin="round"/>
<line x1="887" y1="487.4" x2="896.5" y2="487.4" stroke="#000" stroke-width="3.2" stroke-linecap="round" />
<text x="878.8" y="496.7" font-size="36" text-anchor="end" fill="#000" textLength="16.38" lengthAdjust="spacingAndGlyphs" >0</text>
<line x1="887" y1="376.4" x2="896.5" y2="376.4" stroke="#000" stroke-width="3.2" stroke-linecap="round" />
<text x="878.8" y="385.7" font-size="36" text-anchor="end" fill="#000" textLength="16.38" lengthAdjust="spacingAndGlyphs" >4</text>
<line x1="887" y1="265.4" x2="896.5" y2="265.4" stroke="#000" stroke-width="3.2" stroke-linecap="round" />
<text x="878.8" y="274.7" font-size="36" text-anchor="end" fill="#000" textLength="16.38" lengthAdjust="spacingAndGlyphs" >8</text>
<line x1="887" y1="154.4" x2="896.5" y2="154.4" stroke="#000" stroke-width="3.2" stroke-linecap="round" />
<text x="878.8" y="163.7" font-size="36" text-anchor="end" fill="#000" textLength="32.76" lengthAdjust="spacingAndGlyphs" >12</text>
<line x1="887" y1="43.4" x2="896.5" y2="43.4" stroke="#000" stroke-width="3.2" stroke-linecap="round" />
<text x="878.8" y="52.7" font-size="36" text-anchor="end" fill="#000" textLength="32.76" lengthAdjust="spacingAndGlyphs" >16</text>
<line x1="891.5" y1="431.9" x2="896.5" y2="431.9" stroke="#000" stroke-width="3.2" stroke-linecap="round" />
<line x1="891.5" y1="320.9" x2="896.5" y2="320.9" stroke="#000" stroke-width="3.2" stroke-linecap="round" />
<line x1="891.5" y1="209.9" x2="896.5" y2="209.9" stroke="#000" stroke-width="3.2" stroke-linecap="round" />
<line x1="891.5" y1="98.9" x2="896.5" y2="98.9" stroke="#000" stroke-width="3.2" stroke-linecap="round" />
<line x1="969.44" y1="501.4" x2="969.44" y2="510" stroke="#000" stroke-width="3.2" stroke-linecap="round" />
<text x="970.24" y="543.6" font-size="36" text-anchor="middle" fill="#000" textLength="40.95" lengthAdjust="spacingAndGlyphs" >1.2</text>
<line x1="1115.34" y1="501.4" x2="1115.34" y2="510" stroke="#000" stroke-width="3.2" stroke-linecap="round" />
<text x="1116.13" y="543.6" font-size="36" text-anchor="middle" fill="#000" textLength="40.95" lengthAdjust="spacingAndGlyphs" >1.5</text>
<line x1="1261.22" y1="501.4" x2="1261.22" y2="510" stroke="#000" stroke-width="3.2" stroke-linecap="round" />
<text x="1262.02" y="543.6" font-size="36" text-anchor="middle" fill="#000" textLength="40.95" lengthAdjust="spacingAndGlyphs" >1.8</text>
<line x1="1407.12" y1="501.4" x2="1407.12" y2="510" stroke="#000" stroke-width="3.2" stroke-linecap="round" />
<text x="1407.91" y="543.6" font-size="36" text-anchor="middle" fill="#000" textLength="40.95" lengthAdjust="spacingAndGlyphs" >2.1</text>
<line x1="1553.01" y1="501.4" x2="1553.01" y2="510" stroke="#000" stroke-width="3.2" stroke-linecap="round" />
<text x="1553.81" y="543.6" font-size="36" text-anchor="middle" fill="#000" textLength="40.95" lengthAdjust="spacingAndGlyphs" >2.4</text>
<line x1="896.5" y1="501.4" x2="896.5" y2="505.5" stroke="#000" stroke-width="3.2" stroke-linecap="round" />
<line x1="1042.39" y1="501.4" x2="1042.39" y2="505.5" stroke="#000" stroke-width="3.2" stroke-linecap="round" />
<line x1="1188.28" y1="501.4" x2="1188.28" y2="505.5" stroke="#000" stroke-width="3.2" stroke-linecap="round" />
<line x1="1334.17" y1="501.4" x2="1334.17" y2="505.5" stroke="#000" stroke-width="3.2" stroke-linecap="round" />
<line x1="1480.06" y1="501.4" x2="1480.06" y2="505.5" stroke="#000" stroke-width="3.2" stroke-linecap="round" />
<text x="1060" y="581.3" font-size="38.2" text-anchor="start" fill="#000" textLength="327.3" lengthAdjust="spacingAndGlyphs" >Potential (V vs RHE)</text>
<text x="808.5" y="43.3" font-size="57" text-anchor="start" fill="#000" >b</text>
<text transform="translate(832.7,473.6) rotate(-90)" font-size="39.1">Current density (mA cm<tspan font-size="24.5" dy="-18.5">−</tspan><tspan font-size="24.5" dx="-1.3" dy="-1.7">2</tspan><tspan dx="-1" dy="20.2">)</tspan></text>
<line x1="1475" y1="193.6" x2="1475" y2="32" stroke="#000" stroke-width="2.5" stroke-linecap="butt" />
<path d="M1475,21.7 L1482.3,35.3 L1475,31.8 L1467.7,35.3 Z" fill="#000" stroke="#000" stroke-width="1.2" stroke-linejoin="round"/>
<text x="1479.8" y="56.7" font-size="23.5" text-anchor="start" fill="#F58A1F" textLength="65" lengthAdjust="spacingAndGlyphs" >26.4 %</text>
<text x="1479.8" y="86.9" font-size="23.5" text-anchor="start" fill="#0808CC" textLength="65" lengthAdjust="spacingAndGlyphs" >25.2 %</text>
<text x="1479.8" y="116.4" font-size="23.5" text-anchor="start" fill="#087A08" textLength="65" lengthAdjust="spacingAndGlyphs" >23.9 %</text>
<text x="1479.8" y="145.8" font-size="23.5" text-anchor="start" fill="#E8141C" textLength="65" lengthAdjust="spacingAndGlyphs" >22.7 %</text>
<text x="1479.8" y="175.2" font-size="23.5" text-anchor="start" fill="#000" textLength="65" lengthAdjust="spacingAndGlyphs" >21.4 %</text>
<rect x="969.5" y="33.3" width="351.3" height="290.6" fill="#fff" stroke="#000" stroke-width="2.2"/>
<line x1="963.6" y1="282.6" x2="969.5" y2="282.6" stroke="#000" stroke-width="2" stroke-linecap="butt" />
<text x="960.5" y="289.4" font-size="20.5" text-anchor="end" fill="#000" textLength="17.8" lengthAdjust="spacingAndGlyphs" >13</text>
<line x1="963.6" y1="199.5" x2="969.5" y2="199.5" stroke="#000" stroke-width="2" stroke-linecap="butt" />
<text x="960.5" y="206.3" font-size="20.5" text-anchor="end" fill="#000" textLength="17.8" lengthAdjust="spacingAndGlyphs" >14</text>
<line x1="963.6" y1="116.4" x2="969.5" y2="116.4" stroke="#000" stroke-width="2" stroke-linecap="butt" />
<text x="960.5" y="123.2" font-size="20.5" text-anchor="end" fill="#000" textLength="17.8" lengthAdjust="spacingAndGlyphs" >15</text>
<line x1="963.6" y1="33.3" x2="969.5" y2="33.3" stroke="#000" stroke-width="2" stroke-linecap="butt" />
<text x="960.5" y="40.1" font-size="20.5" text-anchor="end" fill="#000" textLength="17.8" lengthAdjust="spacingAndGlyphs" >16</text>
<line x1="966.5" y1="324.15" x2="969.5" y2="324.15" stroke="#000" stroke-width="2" stroke-linecap="butt" />
<line x1="966.5" y1="241.05" x2="969.5" y2="241.05" stroke="#000" stroke-width="2" stroke-linecap="butt" />
<line x1="966.5" y1="157.95" x2="969.5" y2="157.95" stroke="#000" stroke-width="2" stroke-linecap="butt" />
<line x1="966.5" y1="74.85" x2="969.5" y2="74.85" stroke="#000" stroke-width="2" stroke-linecap="butt" />
<line x1="1004.3" y1="323.9" x2="1004.3" y2="330" stroke="#000" stroke-width="2" stroke-linecap="butt" />
<text x="1004.8" y="351.4" font-size="21.5" text-anchor="middle" fill="#000" textLength="36.5" lengthAdjust="spacingAndGlyphs" >21.4</text>
<line x1="1074.55" y1="323.9" x2="1074.55" y2="330" stroke="#000" stroke-width="2" stroke-linecap="butt" />
<text x="1075.05" y="351.4" font-size="21.5" text-anchor="middle" fill="#000" textLength="36.5" lengthAdjust="spacingAndGlyphs" >22.7</text>
<line x1="1144.8" y1="323.9" x2="1144.8" y2="330" stroke="#000" stroke-width="2" stroke-linecap="butt" />
<text x="1145.3" y="351.4" font-size="21.5" text-anchor="middle" fill="#000" textLength="36.5" lengthAdjust="spacingAndGlyphs" >23.9</text>
<line x1="1215.05" y1="323.9" x2="1215.05" y2="330" stroke="#000" stroke-width="2" stroke-linecap="butt" />
<text x="1215.55" y="351.4" font-size="21.5" text-anchor="middle" fill="#000" textLength="36.5" lengthAdjust="spacingAndGlyphs" >25.2</text>
<line x1="1285.3" y1="323.9" x2="1285.3" y2="330" stroke="#000" stroke-width="2" stroke-linecap="butt" />
<text x="1285.8" y="351.4" font-size="21.5" text-anchor="middle" fill="#000" textLength="36.5" lengthAdjust="spacingAndGlyphs" >26.4</text>
<line x1="969.17" y1="323.9" x2="969.17" y2="327.6" stroke="#000" stroke-width="2" stroke-linecap="butt" />
<line x1="1039.42" y1="323.9" x2="1039.42" y2="327.6" stroke="#000" stroke-width="2" stroke-linecap="butt" />
<line x1="1109.67" y1="323.9" x2="1109.67" y2="327.6" stroke="#000" stroke-width="2" stroke-linecap="butt" />
<line x1="1179.92" y1="323.9" x2="1179.92" y2="327.6" stroke="#000" stroke-width="2" stroke-linecap="butt" />
<line x1="1250.17" y1="323.9" x2="1250.17" y2="327.6" stroke="#000" stroke-width="2" stroke-linecap="butt" />
<line x1="1320.42" y1="323.9" x2="1320.42" y2="327.6" stroke="#000" stroke-width="2" stroke-linecap="butt" />
<text x="1077.2" y="385.6" font-size="29" text-anchor="start" fill="#000" textLength="151.5" lengthAdjust="spacingAndGlyphs" >DNHBW (%)</text>
<text transform="translate(931.4,365.5) rotate(-90)" font-size="31" textLength="271" lengthAdjust="spacingAndGlyphs">Current density (mA cm</text>
<text transform="translate(917.1,64.3) rotate(-90)" font-size="18">−2</text>
<text transform="translate(931.4,45.2) rotate(-90)" font-size="31" textLength="10.3" lengthAdjust="spacingAndGlyphs">)</text>
<line x1="1004.6" y1="270" x2="1004.6" y2="287.6" stroke="#000" stroke-width="1.8" stroke-linecap="butt" />
<line x1="999.3" y1="270" x2="1009.9" y2="270" stroke="#000" stroke-width="1.9" stroke-linecap="butt" />
<line x1="999.3" y1="287.6" x2="1009.9" y2="287.6" stroke="#000" stroke-width="1.9" stroke-linecap="butt" />
<rect x="1000.2" y="273.7" width="8.8" height="9.8" fill="#000"/>
<line x1="1074.8" y1="255" x2="1074.8" y2="272.1" stroke="#F80808" stroke-width="1.8" stroke-linecap="butt" />
<line x1="1069.5" y1="255" x2="1080.1" y2="255" stroke="#F80808" stroke-width="1.9" stroke-linecap="butt" />
<line x1="1069.5" y1="272.1" x2="1080.1" y2="272.1" stroke="#F80808" stroke-width="1.9" stroke-linecap="butt" />
<rect x="1070.4" y="258.6" width="8.8" height="9.8" fill="#F80808"/>
<line x1="1145" y1="187.8" x2="1145" y2="215.6" stroke="#0A7A0A" stroke-width="1.8" stroke-linecap="butt" />
<line x1="1139.7" y1="187.8" x2="1150.3" y2="187.8" stroke="#0A7A0A" stroke-width="1.9" stroke-linecap="butt" />
<line x1="1139.7" y1="215.6" x2="1150.3" y2="215.6" stroke="#0A7A0A" stroke-width="1.9" stroke-linecap="butt" />
<rect x="1140.6" y="197" width="8.8" height="9.8" fill="#0A7A0A"/>
<line x1="1215.2" y1="80.6" x2="1215.2" y2="99.8" stroke="#0000F0" stroke-width="1.8" stroke-linecap="butt" />
<line x1="1209.9" y1="80.6" x2="1220.5" y2="80.6" stroke="#0000F0" stroke-width="1.9" stroke-linecap="butt" />
<line x1="1209.9" y1="99.8" x2="1220.5" y2="99.8" stroke="#0000F0" stroke-width="1.9" stroke-linecap="butt" />
<rect x="1210.8" y="84.8" width="8.8" height="9.8" fill="#0000F0"/>
<line x1="1285.6" y1="52.6" x2="1285.6" y2="73.5" stroke="#FA8416" stroke-width="1.8" stroke-linecap="butt" />
<line x1="1280.3" y1="52.6" x2="1290.9" y2="52.6" stroke="#FA8416" stroke-width="1.9" stroke-linecap="butt" />
<line x1="1280.3" y1="73.5" x2="1290.9" y2="73.5" stroke="#FA8416" stroke-width="1.9" stroke-linecap="butt" />
<rect x="1281.2" y="57.7" width="8.8" height="9.8" fill="#FA8416"/>
<path d="M572.8,1099.8 L700,1099.5 L850,1099.1 L960,1098.7 L961.07,1098.7 L962.13,1098.7 L963.2,1098.69 L964.26,1098.69 L965.32,1098.68 L966.38,1098.68 L967.44,1098.67 L968.49,1098.67 L969.54,1098.66 L970.59,1098.65 L971.64,1098.64 L972.69,1098.63 L973.74,1098.62 L974.78,1098.61 L975.83,1098.6 L976.87,1098.59 L977.91,1098.58 L978.95,1098.56 L979.99,1098.55 L981.03,1098.54 L982.07,1098.52 L983.1,1098.51 L984.14,1098.5 L985.18,1098.48 L986.21,1098.47 L987.25,1098.45 L988.28,1098.44 L989.31,1098.42 L990.35,1098.41 L991.38,1098.39 L992.41,1098.38 L993.45,1098.36 L994.48,1098.35 L995.51,1098.33 L996.55,1098.32 L997.58,1098.3 L998.62,1098.29 L999.65,1098.27 L1000.69,1098.26 L1001.72,1098.24 L1002.76,1098.23 L1003.8,1098.21 L1004.84,1098.2 L1005.87,1098.19 L1006.91,1098.17 L1007.96,1098.16 L1009,1098.15 L1010.04,1098.14 L1011.08,1098.13 L1012.13,1098.11 L1013.18,1098.1 L1014.23,1098.09 L1015.28,1098.09 L1016.33,1098.08 L1017.38,1098.07 L1018.44,1098.06 L1019.49,1098.05 L1020.55,1098.04 L1021.61,1098.04 L1022.67,1098.03 L1023.73,1098.02 L1024.79,1098.01 L1025.85,1097.99 L1026.92,1097.98 L1027.98,1097.97 L1029.05,1097.95 L1030.11,1097.93 L1031.18,1097.91 L1032.24,1097.89 L1033.31,1097.86 L1034.38,1097.83 L1035.44,1097.8 L1036.51,1097.76 L1037.58,1097.73 L1038.64,1097.68 L1039.71,1097.64 L1040.78,1097.59 L1041.84,1097.53 L1042.91,1097.48 L1043.97,1097.41 L1045.03,1097.35 L1046.1,1097.27 L1047.16,1097.19 L1048.22,1097.11 L1049.28,1097.02 L1050.34,1096.93 L1051.39,1096.82 L1052.45,1096.72 L1053.5,1096.6 L1054.56,1096.48 L1055.61,1096.35 L1056.66,1096.22 L1057.71,1096.08 L1058.75,1095.93 L1059.8,1095.77 L1060.84,1095.61 L1061.88,1095.43 L1062.92,1095.25 L1063.95,1095.06 L1064.99,1094.86 L1066.02,1094.65 L1067.05,1094.44 L1068.07,1094.21 L1069.09,1093.97 L1070.11,1093.73 L1071.13,1093.47 L1072.14,1093.21 L1073.16,1092.93 L1074.16,1092.65 L1075.17,1092.35 L1076.17,1092.04 L1077.16,1091.72 L1078.15,1091.39 L1079.14,1091.05 L1080.12,1090.7 L1081.09,1090.33 L1082.06,1089.95 L1083.03,1089.57 L1083.98,1089.16 L1084.93,1088.75 L1085.87,1088.33 L1086.81,1087.89 L1087.73,1087.44 L1088.65,1086.97 L1089.56,1086.49 L1090.46,1086 L1091.36,1085.5 L1092.24,1084.98 L1093.11,1084.45 L1093.97,1083.9 L1094.82,1083.34 L1095.67,1082.77 L1096.5,1082.18 L1097.31,1081.57 L1098.12,1080.96 L1098.92,1080.32 L1099.7,1079.68 L1100.48,1079.02 L1101.24,1078.35 L1101.99,1077.66 L1102.73,1076.96 L1103.46,1076.25 L1104.18,1075.53 L1104.9,1074.8 L1105.6,1074.05 L1106.29,1073.3 L1106.97,1072.54 L1107.64,1071.76 L1108.3,1070.98 L1108.96,1070.18 L1109.6,1069.38 L1110.24,1068.57 L1110.86,1067.75 L1111.48,1066.92 L1112.09,1066.09 L1112.69,1065.24 L1113.28,1064.4 L1113.87,1063.54 L1114.44,1062.68 L1115.01,1061.81 L1115.57,1060.94 L1116.13,1060.06 L1116.67,1059.18 L1117.21,1058.29 L1117.74,1057.39 L1118.27,1056.49 L1118.79,1055.59 L1119.3,1054.68 L1119.8,1053.77 L1120.3,1052.85 L1120.79,1051.93 L1121.28,1051 L1121.76,1050.07 L1122.23,1049.14 L1122.7,1048.2 L1123.17,1047.26 L1123.62,1046.32 L1124.08,1045.37 L1124.52,1044.42 L1124.97,1043.46 L1125.4,1042.51 L1125.84,1041.55 L1126.27,1040.58 L1126.69,1039.62 L1127.11,1038.65 L1127.53,1037.68 L1127.94,1036.7 L1128.35,1035.73 L1128.76,1034.75 L1129.16,1033.77 L1129.56,1032.79 L1129.95,1031.81 L1130.34,1030.83 L1130.73,1029.84 L1131.12,1028.86 L1131.5,1027.87 L1131.88,1026.88 L1132.26,1025.89 L1132.64,1024.9 L1133.02,1023.91 L1133.39,1022.92 L1133.76,1021.93 L1134.13,1020.94 L1134.5,1019.94 L1134.87,1018.95 L1135.23,1017.96 L1135.6,1016.97 L1135.96,1015.97 L1136.32,1014.98 L1136.68,1013.99 L1137.04,1012.99 L1137.39,1012 L1137.75,1011.01 L1138.1,1010.01 L1138.45,1009.02 L1138.8,1008.02 L1139.15,1007.03 L1139.5,1006.03 L1139.84,1005.04 L1140.19,1004.04 L1140.53,1003.05 L1140.87,1002.05 L1141.21,1001.06 L1141.55,1000.06 L1141.89,999.06 L1142.23,998.07 L1142.56,997.07 L1142.89,996.07 L1143.23,995.08 L1143.56,994.08 L1143.89,993.08 L1144.21,992.08 L1144.54,991.09 L1144.87,990.09 L1145.19,989.09 L1145.51,988.09 L1145.83,987.09 L1146.15,986.09 L1146.47,985.09 L1146.79,984.09 L1147.11,983.09 L1147.42,982.09 L1147.74,981.09 L1148.05,980.09 L1148.36,979.09 L1148.67,978.09 L1148.98,977.09 L1149.29,976.09 L1149.59,975.09 L1149.9,974.09 L1150.2,973.09 L1150.5,972.08 L1150.81,971.08 L1151.11,970.08 L1151.41,969.08 L1151.7,968.07 L1152,967.07 L1152.3,966.07 L1152.59,965.06 L1152.89,964.06 L1153.18,963.06 L1153.47,962.05 L1153.76,961.05 L1154.05,960.04 L1154.34,959.04 L1154.62,958.03 L1154.91,957.03 L1155.19,956.02 L1155.48,955.02 L1155.76,954.01 L1156.04,953.01 L1156.32,952 L1156.6,950.99 L1156.88,949.99 L1157.16,948.98 L1157.44,947.97 L1157.71,946.97 L1157.99,945.96 L1158.26,944.95 L1158.53,943.94 L1158.8,942.94 L1159.08,941.93 L1159.35,940.92 L1159.61,939.91 L1159.88,938.9 L1160.15,937.89 L1160.42,936.89 L1160.68,935.88 L1160.94,934.87 L1161.21,933.86 L1161.47,932.85 L1161.73,931.84 L1161.99,930.83 L1162.25,929.82 L1162.51,928.8 L1162.77,927.79 L1163.03,926.78 L1163.28,925.77 L1163.54,924.76 L1163.8,923.75 L1164.05,922.74 L1164.3,921.72 L1164.56,920.71 L1164.81,919.7 L1165.06,918.69 L1165.31,917.67 L1165.56,916.66 L1165.81,915.65 L1166.05,914.63 L1166.3,913.62 L1166.55,912.6 L1166.79,911.59 L1167.04,910.58 L1167.28,909.56 L1167.53,908.55 L1167.77,907.53 L1168.01,906.52 L1168.25,905.5 L1168.5,904.49 L1168.74,903.47 L1168.98,902.45 L1169.21,901.44 L1169.45,900.42 L1169.69,899.4 L1169.93,898.39 L1170.16,897.37 L1170.4,896.35 L1170.64,895.34 L1170.87,894.32 L1171.1,893.3 L1171.34,892.28 L1171.57,891.26 L1171.8,890.25 L1172.04,889.23 L1172.27,888.21 L1172.5,887.19 L1172.73,886.17 L1172.96,885.15 L1173.19,884.13 L1173.42,883.11 L1173.64,882.09 L1173.87,881.07 L1174.1,880.05 L1174.33,879.03 L1174.55,878.01 L1174.78,876.99 L1175,875.97 L1175.23,874.95 L1175.45,873.93 L1175.68,872.9 L1175.9,871.88 L1176.12,870.86 L1176.35,869.84 L1176.57,868.81 L1176.79,867.79 L1177.01,866.77 L1177.23,865.75 L1177.46,864.72 L1177.68,863.7 L1177.9,862.68 L1178.12,861.65 L1178.34,860.63 L1178.56,859.6 L1178.77,858.58 L1178.99,857.55 L1179.21,856.53 L1179.43,855.5 L1179.65,854.48 L1179.87,853.45 L1180.08,852.43 L1180.3,851.4 L1180.52,850.38 L1180.73,849.35 L1180.95,848.32 L1181.16,847.3 L1181.38,846.27 L1181.6,845.24 L1181.81,844.21 L1182.03,843.19 L1182.24,842.16 L1182.46,841.13 L1182.67,840.1 L1182.88,839.08 L1183.1,838.05 L1183.31,837.02 L1183.53,835.99 L1183.74,834.96 L1183.95,833.93 L1184.17,832.9 L1184.38,831.87 L1184.59,830.84 L1184.81,829.81 L1185.02,828.78 L1185.23,827.75 L1185.45,826.72 L1185.66,825.69 L1185.87,824.66 L1186.09,823.63 L1186.3,822.6" fill="none" stroke="#000" stroke-width="3" stroke-linecap="butt" stroke-linejoin="round" />
<path d="M1183.4,803.4 L1183.21,804.47 L1183.01,805.54 L1182.82,806.61 L1182.63,807.68 L1182.44,808.76 L1182.25,809.83 L1182.05,810.9 L1181.86,811.97 L1181.67,813.04 L1181.48,814.11 L1181.28,815.18 L1181.09,816.25 L1180.9,817.33 L1180.71,818.4 L1180.51,819.47 L1180.32,820.54 L1180.13,821.61 L1179.93,822.68 L1179.74,823.75 L1179.55,824.82 L1179.35,825.89 L1179.16,826.97 L1178.97,828.04 L1178.77,829.11 L1178.58,830.18 L1178.38,831.25 L1178.19,832.32 L1178,833.39 L1177.8,834.46 L1177.61,835.53 L1177.41,836.61 L1177.21,837.68 L1177.02,838.75 L1176.82,839.82 L1176.63,840.89 L1176.43,841.96 L1176.23,843.03 L1176.04,844.1 L1175.84,845.17 L1175.64,846.24 L1175.44,847.31 L1175.25,848.38 L1175.05,849.45 L1174.85,850.52 L1174.65,851.59 L1174.45,852.66 L1174.25,853.73 L1174.05,854.8 L1173.85,855.87 L1173.65,856.94 L1173.45,858.01 L1173.25,859.08 L1173.04,860.15 L1172.84,861.22 L1172.64,862.29 L1172.44,863.36 L1172.23,864.43 L1172.03,865.5 L1171.82,866.57 L1171.62,867.64 L1171.41,868.71 L1171.21,869.77 L1171,870.84 L1170.79,871.91 L1170.59,872.98 L1170.38,874.05 L1170.17,875.12 L1169.96,876.18 L1169.75,877.25 L1169.54,878.32 L1169.33,879.39 L1169.12,880.46 L1168.91,881.52 L1168.7,882.59 L1168.49,883.66 L1168.27,884.72 L1168.06,885.79 L1167.84,886.86 L1167.63,887.93 L1167.41,888.99 L1167.2,890.06 L1166.98,891.12 L1166.76,892.19 L1166.55,893.26 L1166.33,894.32 L1166.11,895.39 L1165.89,896.45 L1165.67,897.52 L1165.45,898.58 L1165.22,899.65 L1165,900.71 L1164.78,901.78 L1164.55,902.84 L1164.33,903.91 L1164.1,904.97 L1163.88,906.03 L1163.65,907.1 L1163.42,908.16 L1163.2,909.23 L1162.97,910.29 L1162.74,911.35 L1162.51,912.41 L1162.27,913.48 L1162.04,914.54 L1161.81,915.6 L1161.58,916.66 L1161.34,917.73 L1161.11,918.79 L1160.87,919.85 L1160.63,920.91 L1160.39,921.97 L1160.15,923.03 L1159.92,924.09 L1159.67,925.15 L1159.43,926.21 L1159.19,927.27 L1158.95,928.33 L1158.7,929.39 L1158.46,930.45 L1158.21,931.51 L1157.97,932.57 L1157.72,933.63 L1157.47,934.69 L1157.22,935.75 L1156.97,936.8 L1156.72,937.86 L1156.46,938.92 L1156.21,939.98 L1155.96,941.03 L1155.7,942.09 L1155.44,943.15 L1155.19,944.2 L1154.93,945.26 L1154.67,946.31 L1154.41,947.37 L1154.15,948.42 L1153.88,949.48 L1153.62,950.53 L1153.36,951.59 L1153.09,952.64 L1152.82,953.7 L1152.56,954.75 L1152.29,955.8 L1152.02,956.85 L1151.74,957.91 L1151.47,958.96 L1151.2,960.01 L1150.92,961.06 L1150.65,962.12 L1150.37,963.17 L1150.09,964.22 L1149.81,965.27 L1149.53,966.32 L1149.25,967.37 L1148.97,968.42 L1148.68,969.47 L1148.4,970.52 L1148.11,971.57 L1147.82,972.61 L1147.54,973.66 L1147.25,974.71 L1146.95,975.76 L1146.66,976.81 L1146.37,977.85 L1146.07,978.9 L1145.78,979.94 L1145.48,980.99 L1145.18,982.04 L1144.88,983.08 L1144.58,984.13 L1144.27,985.17 L1143.97,986.22 L1143.66,987.26 L1143.36,988.3 L1143.05,989.35 L1142.74,990.39 L1142.43,991.43 L1142.12,992.47 L1141.8,993.52 L1141.49,994.56 L1141.17,995.6 L1140.85,996.64 L1140.53,997.68 L1140.21,998.72 L1139.89,999.76 L1139.57,1000.8 L1139.24,1001.84 L1138.91,1002.87 L1138.59,1003.91 L1138.26,1004.95 L1137.93,1005.99 L1137.59,1007.02 L1137.26,1008.06 L1136.92,1009.1 L1136.58,1010.13 L1136.24,1011.17 L1135.89,1012.2 L1135.55,1013.23 L1135.2,1014.26 L1134.84,1015.29 L1134.49,1016.32 L1134.13,1017.35 L1133.77,1018.38 L1133.4,1019.41 L1133.03,1020.43 L1132.66,1021.46 L1132.28,1022.48 L1131.9,1023.51 L1131.52,1024.53 L1131.13,1025.55 L1130.74,1026.57 L1130.34,1027.58 L1129.94,1028.6 L1129.54,1029.61 L1129.13,1030.63 L1128.71,1031.64 L1128.29,1032.65 L1127.87,1033.66 L1127.44,1034.66 L1127,1035.67 L1126.56,1036.67 L1126.11,1037.67 L1125.66,1038.67 L1125.2,1039.67 L1124.74,1040.67 L1124.27,1041.66 L1123.79,1042.65 L1123.31,1043.64 L1122.82,1044.63 L1122.33,1045.62 L1121.83,1046.6 L1121.32,1047.58 L1120.8,1048.55 L1120.28,1049.52 L1119.75,1050.49 L1119.22,1051.46 L1118.68,1052.41 L1118.13,1053.37 L1117.57,1054.32 L1117.01,1055.26 L1116.44,1056.2 L1115.87,1057.14 L1115.28,1058.06 L1114.69,1058.98 L1114.09,1059.9 L1113.49,1060.81 L1112.87,1061.71 L1112.25,1062.6 L1111.63,1063.49 L1110.99,1064.37 L1110.35,1065.24 L1109.7,1066.1 L1109.04,1066.96 L1108.37,1067.8 L1107.69,1068.64 L1107.01,1069.47 L1106.32,1070.29 L1105.62,1071.1 L1104.91,1071.9 L1104.2,1072.69 L1103.47,1073.46 L1102.74,1074.23 L1102,1074.99 L1101.25,1075.73 L1100.49,1076.47 L1099.73,1077.19 L1098.95,1077.9 L1098.17,1078.6 L1097.37,1079.29 L1096.57,1079.96 L1095.76,1080.62 L1094.94,1081.27 L1094.11,1081.9 L1093.28,1082.53 L1092.43,1083.13 L1091.57,1083.73 L1090.71,1084.3 L1089.83,1084.87 L1088.95,1085.42 L1088.05,1085.95 L1087.15,1086.47 L1086.23,1086.97 L1085.31,1087.46 L1084.38,1087.93 L1083.44,1088.39 L1082.49,1088.83 L1081.53,1089.26 L1080.56,1089.67 L1079.59,1090.07 L1078.6,1090.46 L1077.61,1090.83 L1076.61,1091.19 L1075.61,1091.54 L1074.59,1091.87 L1073.57,1092.2 L1072.55,1092.51 L1071.51,1092.8 L1070.47,1093.09 L1069.43,1093.36 L1068.38,1093.63 L1067.32,1093.88 L1066.26,1094.12 L1065.19,1094.35 L1064.11,1094.57 L1063.03,1094.78 L1061.95,1094.98 L1060.86,1095.17 L1059.77,1095.36 L1058.68,1095.53 L1057.58,1095.69 L1056.47,1095.85 L1055.37,1096 L1054.26,1096.13 L1053.14,1096.27 L1052.03,1096.39 L1050.91,1096.51 L1049.79,1096.62 L1048.66,1096.72 L1047.54,1096.81 L1046.41,1096.9 L1045.28,1096.99 L1044.15,1097.07 L1043.02,1097.14 L1041.89,1097.2 L1040.76,1097.27 L1039.63,1097.32 L1038.49,1097.37 L1037.36,1097.42 L1036.22,1097.47 L1035.09,1097.51 L1033.96,1097.54 L1032.83,1097.57 L1031.69,1097.6 L1030.56,1097.63 L1029.44,1097.65 L1028.31,1097.68 L1027.18,1097.69 L1026.06,1097.71 L1024.94,1097.73 L1023.82,1097.74 L1022.7,1097.75 L1021.59,1097.77 L1020.48,1097.78 L1019.37,1097.79 L1018.27,1097.8 L1017.17,1097.81 L1016.07,1097.82 L1014.98,1097.83 L1013.89,1097.84 L1012.8,1097.86 L1011.72,1097.87 L1010.64,1097.88 L1009.57,1097.89 L1008.49,1097.91 L1007.42,1097.92 L1006.36,1097.94 L1005.29,1097.95 L1004.23,1097.96 L1003.16,1097.98 L1002.1,1098 L1001.05,1098.01 L999.99,1098.03 L998.93,1098.04 L997.88,1098.06 L996.82,1098.07 L995.77,1098.09 L994.71,1098.11 L993.66,1098.12 L992.6,1098.14 L991.55,1098.16 L990.5,1098.18 L989.44,1098.19 L988.38,1098.21 L987.33,1098.23 L986.27,1098.24 L985.21,1098.26 L984.15,1098.28 L983.08,1098.29 L982.02,1098.31 L980.95,1098.33 L979.88,1098.34 L978.81,1098.36 L977.73,1098.38 L976.66,1098.39 L975.57,1098.41 L974.49,1098.42 L973.4,1098.44 L972.31,1098.45 L971.21,1098.47 L970.11,1098.48 L969.01,1098.5 L967.9,1098.51 L966.79,1098.53 L965.67,1098.54 L964.55,1098.55 L963.42,1098.56 L962.28,1098.58 L961.15,1098.59 L960,1098.6 L850,1099.1 L700,1099.5 L572.8,1099.8" fill="none" stroke="#0000E6" stroke-width="3.2" stroke-linecap="round" stroke-linejoin="round" stroke-dasharray="3 15.3" />
<path d="M1184.3,783 L1184.09,784.11 L1183.87,785.21 L1183.66,786.32 L1183.45,787.43 L1183.24,788.54 L1183.02,789.64 L1182.81,790.75 L1182.6,791.86 L1182.4,792.97 L1182.19,794.08 L1181.98,795.19 L1181.77,796.3 L1181.57,797.41 L1181.36,798.52 L1181.15,799.63 L1180.95,800.74 L1180.74,801.85 L1180.54,802.96 L1180.34,804.07 L1180.13,805.19 L1179.93,806.3 L1179.73,807.41 L1179.53,808.52 L1179.32,809.64 L1179.12,810.75 L1178.92,811.86 L1178.72,812.98 L1178.52,814.09 L1178.32,815.2 L1178.12,816.32 L1177.93,817.43 L1177.73,818.54 L1177.53,819.66 L1177.33,820.77 L1177.13,821.89 L1176.93,823 L1176.74,824.12 L1176.54,825.23 L1176.34,826.35 L1176.15,827.46 L1175.95,828.58 L1175.75,829.7 L1175.56,830.81 L1175.36,831.93 L1175.17,833.04 L1174.97,834.16 L1174.77,835.28 L1174.58,836.39 L1174.38,837.51 L1174.19,838.63 L1173.99,839.74 L1173.8,840.86 L1173.6,841.98 L1173.41,843.09 L1173.21,844.21 L1173.02,845.33 L1172.82,846.44 L1172.62,847.56 L1172.43,848.68 L1172.23,849.8 L1172.04,850.91 L1171.84,852.03 L1171.65,853.15 L1171.45,854.26 L1171.25,855.38 L1171.06,856.5 L1170.86,857.62 L1170.66,858.73 L1170.47,859.85 L1170.27,860.97 L1170.07,862.08 L1169.87,863.2 L1169.67,864.32 L1169.48,865.44 L1169.28,866.55 L1169.08,867.67 L1168.88,868.79 L1168.68,869.9 L1168.48,871.02 L1168.28,872.14 L1168.08,873.25 L1167.88,874.37 L1167.67,875.49 L1167.47,876.6 L1167.27,877.72 L1167.07,878.84 L1166.86,879.95 L1166.66,881.07 L1166.46,882.19 L1166.25,883.3 L1166.05,884.42 L1165.84,885.53 L1165.63,886.65 L1165.43,887.76 L1165.22,888.88 L1165.01,889.99 L1164.8,891.11 L1164.59,892.22 L1164.38,893.34 L1164.17,894.45 L1163.96,895.57 L1163.75,896.68 L1163.53,897.79 L1163.32,898.91 L1163.11,900.02 L1162.89,901.13 L1162.68,902.25 L1162.46,903.36 L1162.24,904.47 L1162.02,905.59 L1161.81,906.7 L1161.59,907.81 L1161.37,908.92 L1161.14,910.03 L1160.92,911.14 L1160.7,912.26 L1160.48,913.37 L1160.25,914.48 L1160.02,915.59 L1159.8,916.7 L1159.57,917.81 L1159.34,918.92 L1159.11,920.03 L1158.88,921.13 L1158.65,922.24 L1158.42,923.35 L1158.18,924.46 L1157.95,925.57 L1157.71,926.67 L1157.48,927.78 L1157.24,928.89 L1157,929.99 L1156.76,931.1 L1156.52,932.21 L1156.28,933.31 L1156.03,934.42 L1155.79,935.52 L1155.54,936.63 L1155.3,937.73 L1155.05,938.83 L1154.8,939.94 L1154.55,941.04 L1154.3,942.14 L1154.04,943.24 L1153.79,944.34 L1153.53,945.45 L1153.28,946.55 L1153.02,947.65 L1152.76,948.75 L1152.5,949.85 L1152.23,950.95 L1151.97,952.04 L1151.7,953.14 L1151.44,954.24 L1151.17,955.34 L1150.9,956.43 L1150.63,957.53 L1150.36,958.63 L1150.08,959.72 L1149.81,960.82 L1149.53,961.91 L1149.25,963.01 L1148.97,964.1 L1148.69,965.19 L1148.41,966.29 L1148.12,967.38 L1147.84,968.47 L1147.55,969.56 L1147.26,970.65 L1146.97,971.74 L1146.68,972.83 L1146.38,973.92 L1146.09,975.01 L1145.79,976.1 L1145.49,977.18 L1145.19,978.27 L1144.89,979.36 L1144.58,980.44 L1144.27,981.53 L1143.97,982.61 L1143.66,983.7 L1143.35,984.78 L1143.03,985.86 L1142.72,986.94 L1142.4,988.03 L1142.08,989.11 L1141.76,990.19 L1141.44,991.27 L1141.11,992.35 L1140.79,993.43 L1140.46,994.5 L1140.13,995.58 L1139.79,996.66 L1139.46,997.73 L1139.12,998.81 L1138.78,999.88 L1138.44,1000.96 L1138.09,1002.03 L1137.75,1003.1 L1137.4,1004.17 L1137.04,1005.25 L1136.69,1006.32 L1136.33,1007.38 L1135.96,1008.45 L1135.59,1009.52 L1135.22,1010.59 L1134.85,1011.65 L1134.47,1012.72 L1134.09,1013.78 L1133.7,1014.85 L1133.31,1015.91 L1132.92,1016.97 L1132.52,1018.03 L1132.12,1019.09 L1131.71,1020.15 L1131.3,1021.2 L1130.88,1022.26 L1130.46,1023.32 L1130.03,1024.37 L1129.6,1025.42 L1129.16,1026.48 L1128.71,1027.53 L1128.26,1028.58 L1127.81,1029.63 L1127.35,1030.67 L1126.88,1031.72 L1126.41,1032.77 L1125.93,1033.81 L1125.45,1034.85 L1124.96,1035.9 L1124.46,1036.94 L1123.96,1037.97 L1123.45,1039.01 L1122.93,1040.05 L1122.41,1041.08 L1121.88,1042.11 L1121.34,1043.13 L1120.8,1044.16 L1120.25,1045.18 L1119.69,1046.19 L1119.13,1047.2 L1118.56,1048.21 L1117.98,1049.21 L1117.4,1050.21 L1116.81,1051.21 L1116.21,1052.19 L1115.61,1053.18 L1114.99,1054.16 L1114.38,1055.13 L1113.75,1056.09 L1113.11,1057.05 L1112.47,1058 L1111.82,1058.95 L1111.17,1059.89 L1110.5,1060.82 L1109.83,1061.74 L1109.15,1062.66 L1108.47,1063.57 L1107.77,1064.47 L1107.07,1065.36 L1106.36,1066.24 L1105.64,1067.12 L1104.92,1067.98 L1104.19,1068.83 L1103.44,1069.68 L1102.7,1070.51 L1101.94,1071.34 L1101.17,1072.15 L1100.4,1072.96 L1099.62,1073.75 L1098.83,1074.53 L1098.03,1075.3 L1097.22,1076.06 L1096.4,1076.81 L1095.58,1077.54 L1094.75,1078.26 L1093.91,1078.97 L1093.06,1079.67 L1092.2,1080.35 L1091.33,1081.02 L1090.46,1081.68 L1089.57,1082.32 L1088.68,1082.95 L1087.78,1083.56 L1086.86,1084.16 L1085.94,1084.75 L1085.02,1085.32 L1084.08,1085.87 L1083.13,1086.41 L1082.17,1086.93 L1081.21,1087.44 L1080.23,1087.93 L1079.25,1088.41 L1078.25,1088.86 L1077.25,1089.31 L1076.24,1089.73 L1075.22,1090.14 L1074.19,1090.54 L1073.15,1090.92 L1072.11,1091.29 L1071.06,1091.64 L1070,1091.98 L1068.93,1092.31 L1067.86,1092.62 L1066.78,1092.92 L1065.7,1093.2 L1064.61,1093.48 L1063.51,1093.74 L1062.4,1093.99 L1061.3,1094.23 L1060.18,1094.45 L1059.06,1094.67 L1057.94,1094.87 L1056.81,1095.07 L1055.68,1095.25 L1054.54,1095.43 L1053.4,1095.6 L1052.26,1095.75 L1051.11,1095.9 L1049.96,1096.04 L1048.8,1096.17 L1047.65,1096.29 L1046.49,1096.4 L1045.33,1096.51 L1044.16,1096.61 L1043,1096.7 L1041.83,1096.79 L1040.66,1096.87 L1039.49,1096.94 L1038.32,1097.01 L1037.15,1097.07 L1035.98,1097.13 L1034.81,1097.19 L1033.64,1097.23 L1032.47,1097.28 L1031.3,1097.32 L1030.13,1097.35 L1028.96,1097.39 L1027.79,1097.42 L1026.62,1097.44 L1025.46,1097.47 L1024.3,1097.49 L1023.14,1097.51 L1021.98,1097.53 L1020.82,1097.55 L1019.67,1097.56 L1018.52,1097.58 L1017.37,1097.59 L1016.23,1097.61 L1015.09,1097.62 L1013.95,1097.64 L1012.82,1097.65 L1011.69,1097.67 L1010.56,1097.68 L1009.44,1097.7 L1008.31,1097.71 L1007.19,1097.73 L1006.08,1097.74 L1004.96,1097.76 L1003.85,1097.77 L1002.74,1097.79 L1001.63,1097.8 L1000.52,1097.82 L999.41,1097.84 L998.3,1097.85 L997.2,1097.87 L996.09,1097.88 L994.99,1097.9 L993.88,1097.92 L992.78,1097.93 L991.67,1097.95 L990.57,1097.97 L989.46,1097.99 L988.36,1098 L987.25,1098.02 L986.14,1098.04 L985.03,1098.06 L983.92,1098.07 L982.81,1098.09 L981.7,1098.11 L980.58,1098.13 L979.47,1098.15 L978.35,1098.17 L977.23,1098.19 L976.1,1098.2 L974.98,1098.22 L973.85,1098.24 L972.71,1098.26 L971.58,1098.28 L970.44,1098.31 L969.29,1098.33 L968.15,1098.35 L967,1098.37 L965.84,1098.39 L964.68,1098.41 L963.52,1098.43 L962.35,1098.46 L961.18,1098.48 L960,1098.5 L850,1099 L700,1099.4 L572.8,1099.8" fill="none" stroke="#E61EE6" stroke-width="3" stroke-linecap="round" stroke-linejoin="round" stroke-dasharray="13 17.5" />
<path d="M1186.3,690.9 L1186.09,692.23 L1185.87,693.56 L1185.66,694.89 L1185.45,696.22 L1185.24,697.55 L1185.03,698.88 L1184.82,700.21 L1184.62,701.54 L1184.41,702.87 L1184.21,704.21 L1184.01,705.54 L1183.81,706.87 L1183.61,708.21 L1183.41,709.54 L1183.21,710.87 L1183.02,712.21 L1182.82,713.54 L1182.63,714.88 L1182.44,716.22 L1182.25,717.55 L1182.06,718.89 L1181.87,720.23 L1181.68,721.56 L1181.49,722.9 L1181.31,724.24 L1181.12,725.58 L1180.94,726.92 L1180.76,728.26 L1180.58,729.6 L1180.4,730.94 L1180.22,732.28 L1180.04,733.62 L1179.86,734.96 L1179.68,736.3 L1179.5,737.64 L1179.33,738.98 L1179.15,740.33 L1178.98,741.67 L1178.81,743.01 L1178.63,744.35 L1178.46,745.7 L1178.29,747.04 L1178.12,748.38 L1177.95,749.73 L1177.78,751.07 L1177.61,752.42 L1177.44,753.76 L1177.27,755.1 L1177.11,756.45 L1176.94,757.79 L1176.77,759.14 L1176.61,760.48 L1176.44,761.83 L1176.28,763.18 L1176.11,764.52 L1175.95,765.87 L1175.79,767.21 L1175.62,768.56 L1175.46,769.91 L1175.3,771.25 L1175.13,772.6 L1174.97,773.95 L1174.81,775.29 L1174.65,776.64 L1174.49,777.99 L1174.33,779.34 L1174.16,780.68 L1174,782.03 L1173.84,783.38 L1173.68,784.72 L1173.52,786.07 L1173.36,787.42 L1173.2,788.77 L1173.04,790.12 L1172.88,791.46 L1172.72,792.81 L1172.56,794.16 L1172.4,795.51 L1172.23,796.85 L1172.07,798.2 L1171.91,799.55 L1171.75,800.9 L1171.59,802.25 L1171.43,803.59 L1171.27,804.94 L1171.1,806.29 L1170.94,807.64 L1170.78,808.98 L1170.62,810.33 L1170.45,811.68 L1170.29,813.03 L1170.13,814.37 L1169.96,815.72 L1169.8,817.07 L1169.63,818.42 L1169.47,819.76 L1169.3,821.11 L1169.14,822.46 L1168.97,823.8 L1168.8,825.15 L1168.63,826.5 L1168.47,827.84 L1168.3,829.19 L1168.13,830.53 L1167.96,831.88 L1167.79,833.23 L1167.61,834.57 L1167.44,835.92 L1167.27,837.26 L1167.1,838.61 L1166.92,839.95 L1166.75,841.3 L1166.57,842.64 L1166.39,843.98 L1166.22,845.33 L1166.04,846.67 L1165.86,848.02 L1165.68,849.36 L1165.5,850.7 L1165.32,852.05 L1165.13,853.39 L1164.95,854.73 L1164.76,856.07 L1164.58,857.41 L1164.39,858.76 L1164.2,860.1 L1164.01,861.44 L1163.82,862.78 L1163.63,864.12 L1163.44,865.46 L1163.25,866.8 L1163.05,868.14 L1162.86,869.48 L1162.66,870.82 L1162.46,872.15 L1162.26,873.49 L1162.06,874.83 L1161.86,876.17 L1161.66,877.5 L1161.45,878.84 L1161.25,880.18 L1161.04,881.51 L1160.83,882.85 L1160.62,884.18 L1160.41,885.52 L1160.2,886.85 L1159.98,888.18 L1159.76,889.52 L1159.55,890.85 L1159.33,892.18 L1159.11,893.52 L1158.89,894.85 L1158.66,896.18 L1158.44,897.51 L1158.21,898.84 L1157.98,900.17 L1157.75,901.5 L1157.52,902.83 L1157.28,904.15 L1157.05,905.48 L1156.81,906.81 L1156.57,908.14 L1156.33,909.46 L1156.09,910.79 L1155.84,912.11 L1155.6,913.44 L1155.35,914.76 L1155.1,916.09 L1154.85,917.41 L1154.59,918.73 L1154.34,920.05 L1154.08,921.37 L1153.82,922.69 L1153.56,924.01 L1153.29,925.33 L1153.03,926.65 L1152.76,927.97 L1152.49,929.29 L1152.21,930.61 L1151.94,931.92 L1151.66,933.24 L1151.38,934.55 L1151.1,935.87 L1150.82,937.18 L1150.53,938.5 L1150.24,939.81 L1149.95,941.12 L1149.66,942.43 L1149.37,943.74 L1149.07,945.05 L1148.77,946.36 L1148.47,947.67 L1148.16,948.98 L1147.86,950.28 L1147.55,951.59 L1147.24,952.9 L1146.92,954.2 L1146.6,955.51 L1146.28,956.81 L1145.96,958.11 L1145.64,959.41 L1145.31,960.72 L1144.98,962.02 L1144.65,963.32 L1144.31,964.62 L1143.98,965.92 L1143.64,967.22 L1143.29,968.52 L1142.95,969.82 L1142.6,971.12 L1142.25,972.41 L1141.9,973.71 L1141.54,975.01 L1141.18,976.31 L1140.82,977.61 L1140.45,978.91 L1140.09,980.21 L1139.72,981.5 L1139.34,982.8 L1138.97,984.1 L1138.59,985.4 L1138.21,986.7 L1137.82,988 L1137.43,989.3 L1137.04,990.6 L1136.65,991.9 L1136.26,993.2 L1135.86,994.5 L1135.45,995.8 L1135.05,997.1 L1134.64,998.41 L1134.23,999.71 L1133.82,1001.01 L1133.4,1002.32 L1132.98,1003.62 L1132.56,1004.93 L1132.13,1006.24 L1131.7,1007.55 L1131.27,1008.85 L1130.83,1010.16 L1130.39,1011.47 L1129.95,1012.78 L1129.5,1014.08 L1129.04,1015.39 L1128.58,1016.69 L1128.12,1018 L1127.65,1019.3 L1127.18,1020.6 L1126.7,1021.89 L1126.21,1023.19 L1125.72,1024.48 L1125.22,1025.77 L1124.72,1027.06 L1124.21,1028.34 L1123.69,1029.62 L1123.17,1030.89 L1122.63,1032.16 L1122.09,1033.43 L1121.55,1034.69 L1120.99,1035.94 L1120.43,1037.19 L1119.85,1038.44 L1119.27,1039.68 L1118.68,1040.91 L1118.09,1042.13 L1117.48,1043.35 L1116.86,1044.57 L1116.23,1045.77 L1115.59,1046.97 L1114.95,1048.16 L1114.29,1049.34 L1113.62,1050.52 L1112.94,1051.68 L1112.25,1052.84 L1111.55,1053.99 L1110.84,1055.13 L1110.11,1056.26 L1109.37,1057.38 L1108.63,1058.49 L1107.87,1059.59 L1107.09,1060.67 L1106.31,1061.75 L1105.51,1062.82 L1104.69,1063.88 L1103.87,1064.92 L1103.03,1065.95 L1102.17,1066.97 L1101.31,1067.98 L1100.43,1068.98 L1099.53,1069.96 L1098.62,1070.93 L1097.7,1071.88 L1096.76,1072.82 L1095.81,1073.75 L1094.85,1074.66 L1093.87,1075.56 L1092.88,1076.43 L1091.88,1077.3 L1090.86,1078.14 L1089.83,1078.97 L1088.79,1079.78 L1087.73,1080.58 L1086.67,1081.35 L1085.58,1082.11 L1084.49,1082.85 L1083.39,1083.57 L1082.27,1084.26 L1081.14,1084.94 L1080,1085.6 L1078.84,1086.23 L1077.68,1086.85 L1076.5,1087.44 L1075.31,1088.01 L1074.11,1088.56 L1072.9,1089.09 L1071.68,1089.59 L1070.44,1090.08 L1069.2,1090.54 L1067.95,1090.99 L1066.69,1091.42 L1065.42,1091.82 L1064.14,1092.21 L1062.86,1092.59 L1061.56,1092.94 L1060.26,1093.28 L1058.95,1093.6 L1057.64,1093.9 L1056.32,1094.19 L1054.99,1094.47 L1053.66,1094.72 L1052.32,1094.97 L1050.98,1095.2 L1049.63,1095.42 L1048.28,1095.62 L1046.92,1095.81 L1045.56,1095.99 L1044.2,1096.15 L1042.84,1096.31 L1041.47,1096.45 L1040.1,1096.58 L1038.73,1096.71 L1037.36,1096.82 L1035.99,1096.92 L1034.61,1097.02 L1033.24,1097.1 L1031.86,1097.18 L1030.49,1097.25 L1029.12,1097.31 L1027.74,1097.37 L1026.37,1097.42 L1025,1097.46 L1023.63,1097.5 L1022.26,1097.53 L1020.89,1097.55 L1019.52,1097.57 L1018.16,1097.59 L1016.79,1097.6 L1015.42,1097.61 L1014.06,1097.61 L1012.69,1097.61 L1011.33,1097.61 L1009.96,1097.6 L1008.6,1097.59 L1007.24,1097.58 L1005.88,1097.57 L1004.51,1097.56 L1003.15,1097.54 L1001.79,1097.53 L1000.43,1097.51 L999.08,1097.5 L997.72,1097.48 L996.36,1097.46 L995,1097.45 L993.65,1097.43 L992.29,1097.42 L990.94,1097.41 L989.59,1097.4 L988.23,1097.4 L986.88,1097.39 L985.53,1097.39 L984.18,1097.4 L982.83,1097.4 L981.48,1097.41 L980.13,1097.43 L978.79,1097.45 L977.44,1097.47 L976.09,1097.5 L974.75,1097.54 L973.4,1097.58 L972.06,1097.63 L970.72,1097.69 L969.37,1097.75 L968.03,1097.82 L966.69,1097.89 L965.35,1097.98 L964.01,1098.07 L962.67,1098.17 L961.34,1098.28 L960,1098.4 L850,1099 L700,1099.4 L572.8,1099.8" fill="none" stroke="#087A08" stroke-width="3.2" stroke-linecap="round" stroke-linejoin="round" stroke-dasharray="14.3 11.9 0.5 11.9" />
<rect x="572.8" y="649.4" width="657.5" height="486.2" fill="none" stroke="#000" stroke-width="3.2" stroke-linejoin="round"/>
<line x1="563" y1="1099.8" x2="572.8" y2="1099.8" stroke="#000" stroke-width="3.2" stroke-linecap="round" />
<text x="555.4" y="1108.8" font-size="36" text-anchor="end" fill="#000" textLength="16.38" lengthAdjust="spacingAndGlyphs" >0</text>
<line x1="563" y1="991.65" x2="572.8" y2="991.65" stroke="#000" stroke-width="3.2" stroke-linecap="round" />
<text x="555.4" y="1000.65" font-size="36" text-anchor="end" fill="#000" textLength="16.38" lengthAdjust="spacingAndGlyphs" >9</text>
<line x1="563" y1="883.49" x2="572.8" y2="883.49" stroke="#000" stroke-width="3.2" stroke-linecap="round" />
<text x="555.4" y="892.49" font-size="36" text-anchor="end" fill="#000" textLength="32.76" lengthAdjust="spacingAndGlyphs" >18</text>
<line x1="563" y1="775.34" x2="572.8" y2="775.34" stroke="#000" stroke-width="3.2" stroke-linecap="round" />
<text x="555.4" y="784.34" font-size="36" text-anchor="end" fill="#000" textLength="32.76" lengthAdjust="spacingAndGlyphs" >27</text>
<line x1="563" y1="667.19" x2="572.8" y2="667.19" stroke="#000" stroke-width="3.2" stroke-linecap="round" />
<text x="555.4" y="676.19" font-size="36" text-anchor="end" fill="#000" textLength="32.76" lengthAdjust="spacingAndGlyphs" >36</text>
<line x1="567.5" y1="1045.72" x2="572.8" y2="1045.72" stroke="#000" stroke-width="3.2" stroke-linecap="round" />
<line x1="567.5" y1="937.57" x2="572.8" y2="937.57" stroke="#000" stroke-width="3.2" stroke-linecap="round" />
<line x1="567.5" y1="829.42" x2="572.8" y2="829.42" stroke="#000" stroke-width="3.2" stroke-linecap="round" />
<line x1="567.5" y1="721.26" x2="572.8" y2="721.26" stroke="#000" stroke-width="3.2" stroke-linecap="round" />
<line x1="572.8" y1="1135.6" x2="572.8" y2="1145" stroke="#000" stroke-width="3.2" stroke-linecap="round" />
<text x="573.6" y="1177.6" font-size="36" text-anchor="middle" fill="#000" textLength="40.95" lengthAdjust="spacingAndGlyphs" >1.2</text>
<line x1="692.36" y1="1135.6" x2="692.36" y2="1145" stroke="#000" stroke-width="3.2" stroke-linecap="round" />
<text x="693.16" y="1177.6" font-size="36" text-anchor="middle" fill="#000" textLength="40.95" lengthAdjust="spacingAndGlyphs" >1.4</text>
<line x1="811.92" y1="1135.6" x2="811.92" y2="1145" stroke="#000" stroke-width="3.2" stroke-linecap="round" />
<text x="812.72" y="1177.6" font-size="36" text-anchor="middle" fill="#000" textLength="40.95" lengthAdjust="spacingAndGlyphs" >1.6</text>
<line x1="931.48" y1="1135.6" x2="931.48" y2="1145" stroke="#000" stroke-width="3.2" stroke-linecap="round" />
<text x="932.28" y="1177.6" font-size="36" text-anchor="middle" fill="#000" textLength="40.95" lengthAdjust="spacingAndGlyphs" >1.8</text>
<line x1="1051.04" y1="1135.6" x2="1051.04" y2="1145" stroke="#000" stroke-width="3.2" stroke-linecap="round" />
<text x="1051.84" y="1177.6" font-size="36" text-anchor="middle" fill="#000" textLength="40.95" lengthAdjust="spacingAndGlyphs" >2.0</text>
<line x1="1170.6" y1="1135.6" x2="1170.6" y2="1145" stroke="#000" stroke-width="3.2" stroke-linecap="round" />
<text x="1171.4" y="1177.6" font-size="36" text-anchor="middle" fill="#000" textLength="40.95" lengthAdjust="spacingAndGlyphs" >2.2</text>
<line x1="632.58" y1="1135.6" x2="632.58" y2="1140.5" stroke="#000" stroke-width="3.2" stroke-linecap="round" />
<line x1="752.14" y1="1135.6" x2="752.14" y2="1140.5" stroke="#000" stroke-width="3.2" stroke-linecap="round" />
<line x1="871.7" y1="1135.6" x2="871.7" y2="1140.5" stroke="#000" stroke-width="3.2" stroke-linecap="round" />
<line x1="991.26" y1="1135.6" x2="991.26" y2="1140.5" stroke="#000" stroke-width="3.2" stroke-linecap="round" />
<line x1="1110.82" y1="1135.6" x2="1110.82" y2="1140.5" stroke="#000" stroke-width="3.2" stroke-linecap="round" />
<line x1="1230.38" y1="1135.6" x2="1230.38" y2="1140.5" stroke="#000" stroke-width="3.2" stroke-linecap="round" />
<text x="737.4" y="1219.6" font-size="38.2" text-anchor="start" fill="#000" textLength="327.3" lengthAdjust="spacingAndGlyphs" >Potential (V vs RHE)</text>
<text x="468" y="670.3" font-size="58" text-anchor="start" fill="#000" >c</text>
<text transform="translate(491.1,1107.6) rotate(-90)" font-size="39.1">Current density (mA cm<tspan font-size="24.5" dy="-18.5">−</tspan><tspan font-size="24.5" dx="-1.3" dy="-1.7">2</tspan><tspan dx="-1" dy="20.2">)</tspan></text>
<line x1="597" y1="687.2" x2="651.2" y2="687.2" stroke="#000" stroke-width="3" stroke-linecap="butt" />
<text x="658.5" y="694.9" font-size="27.6" text-anchor="start" fill="#000" >DI water</text>
<line x1="596.5" y1="721.9" x2="640" y2="721.9" stroke="#0000E6" stroke-width="3.3" stroke-linecap="round" stroke-dasharray="2 17.8"/>
<text x="658.3" y="729.4" font-size="27.75" text-anchor="start" fill="#0808CC" >sAuNT water (increase 12.8%)</text>
<line x1="598" y1="755.5" x2="643" y2="755.5" stroke="#E61EE6" stroke-width="3" stroke-linecap="round" stroke-dasharray="13 17"/>
<text x="658.5" y="764" font-size="27.75" text-anchor="start" fill="#E61EE6" >DI water-LED (increase 18.1%)</text>
<line x1="599" y1="790.3" x2="650" y2="790.3" stroke="#087A08" stroke-width="3.2" stroke-linecap="round" stroke-dasharray="14.3 11.9 0.5 11.9"/>
<text x="658.3" y="798.2" font-size="27.75" text-anchor="start" fill="#087A08" >sAuNT water-LED (increase 47.5%)</text>
</svg>
</body></html>
